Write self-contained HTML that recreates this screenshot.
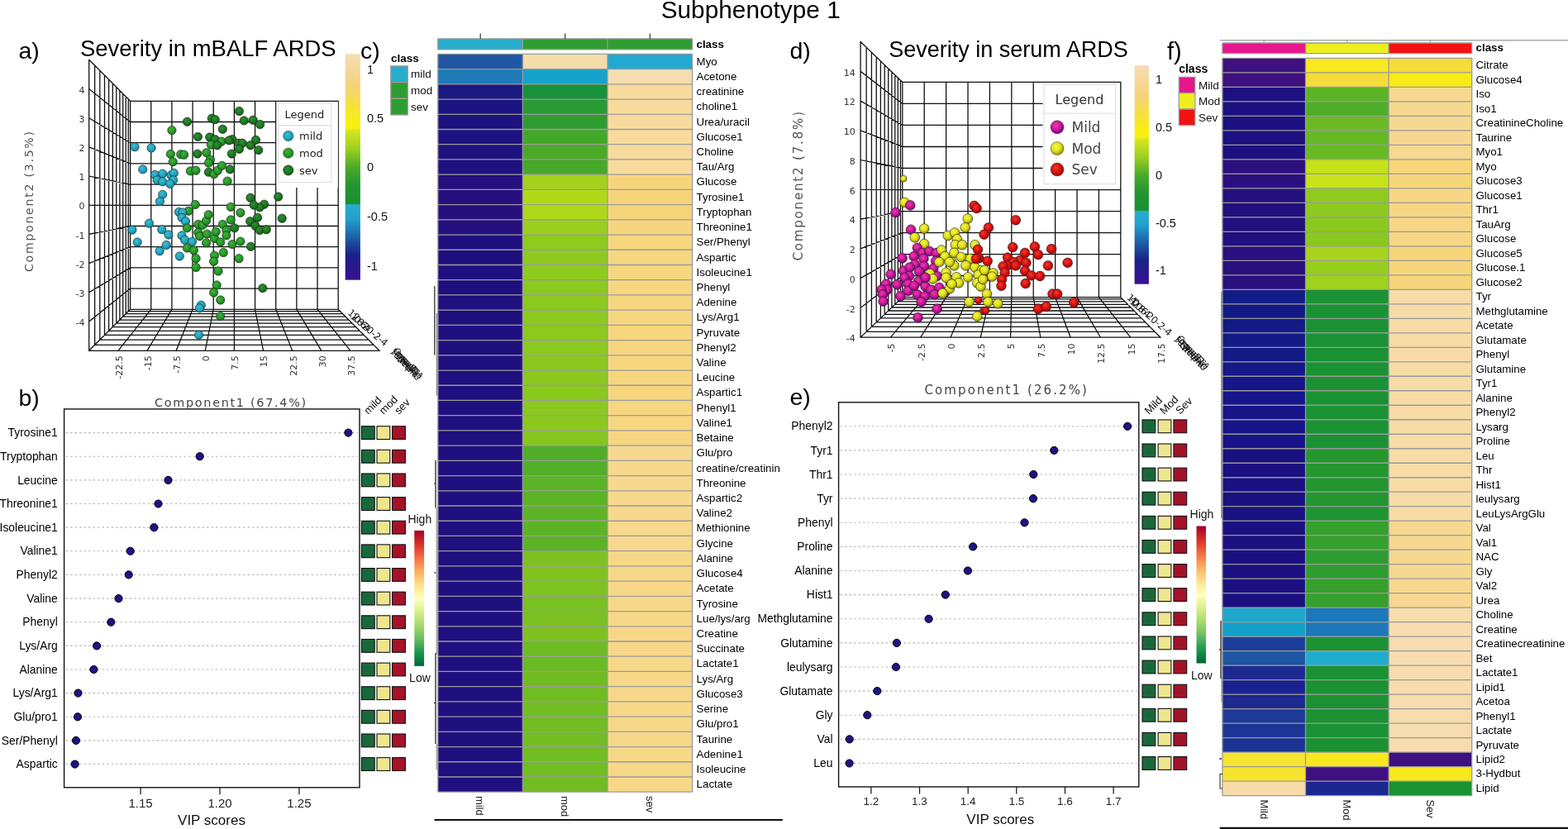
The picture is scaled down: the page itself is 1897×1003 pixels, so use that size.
<!DOCTYPE html>
<html><head><meta charset="utf-8"><title>Subphenotype 1</title>
<style>html,body{margin:0;padding:0;background:#fff;overflow:hidden}svg{display:block}</style>
</head><body>
<svg width="1897" height="1003" viewBox="0 0 1897 1003">
<defs>
<linearGradient id="rdylgn" x1="0" y1="0" x2="0" y2="1">
<stop offset="0" stop-color="#A50026"/><stop offset="0.1" stop-color="#D73027"/><stop offset="0.2" stop-color="#F46D43"/>
<stop offset="0.3" stop-color="#FDAE61"/><stop offset="0.4" stop-color="#FEE08B"/><stop offset="0.5" stop-color="#FFFFBF"/>
<stop offset="0.6" stop-color="#D9EF8B"/><stop offset="0.7" stop-color="#A6D96A"/><stop offset="0.8" stop-color="#66BD63"/>
<stop offset="0.9" stop-color="#1A9850"/><stop offset="1" stop-color="#006837"/></linearGradient>
<radialGradient id="gc" cx="0.42" cy="0.38" r="0.62"><stop offset="0" stop-color="#3EBDD2"/><stop offset="0.55" stop-color="#22A6BF"/><stop offset="1" stop-color="#15839A"/></radialGradient>
<radialGradient id="gg" cx="0.42" cy="0.38" r="0.62"><stop offset="0" stop-color="#3DB33D"/><stop offset="0.55" stop-color="#279A27"/><stop offset="1" stop-color="#1B7A1B"/></radialGradient>
<radialGradient id="gd" cx="0.42" cy="0.38" r="0.62"><stop offset="0" stop-color="#2F8F2F"/><stop offset="0.55" stop-color="#1E7A22"/><stop offset="1" stop-color="#145C16"/></radialGradient>
<radialGradient id="gm" cx="0.42" cy="0.38" r="0.62"><stop offset="0" stop-color="#F03CA8"/><stop offset="0.55" stop-color="#C8149C"/><stop offset="1" stop-color="#6E0A72"/></radialGradient>
<radialGradient id="gy" cx="0.42" cy="0.38" r="0.62"><stop offset="0" stop-color="#F6F650"/><stop offset="0.55" stop-color="#DEDE18"/><stop offset="1" stop-color="#929206"/></radialGradient>
<radialGradient id="gr" cx="0.42" cy="0.38" r="0.62"><stop offset="0" stop-color="#F23A2A"/><stop offset="0.55" stop-color="#D81010"/><stop offset="1" stop-color="#9A0808"/></radialGradient>
<linearGradient id="hmcb" x1="0" y1="0" x2="0" y2="1">
<stop offset="0" stop-color="#F5DDB5"/><stop offset="0.14" stop-color="#F5D27A"/><stop offset="0.22" stop-color="#F7E040"/>
<stop offset="0.30" stop-color="#F8F010"/><stop offset="0.33" stop-color="#F8F010"/><stop offset="0.335" stop-color="#D8E820"/>
<stop offset="0.42" stop-color="#9CCF20"/><stop offset="0.50" stop-color="#4CAA2A"/><stop offset="0.585" stop-color="#229530"/>
<stop offset="0.664" stop-color="#1A9033"/><stop offset="0.667" stop-color="#29ADCF"/><stop offset="0.73" stop-color="#20A0CC"/>
<stop offset="0.81" stop-color="#1E60A8"/><stop offset="0.89" stop-color="#1A2088"/><stop offset="1" stop-color="#3A1090"/></linearGradient>
</defs>
<rect width="1897" height="1003" fill="#fff"/>
<rect x="529.80" y="65.40" width="102.60" height="18.22" fill="#1F57A5" />
<rect x="632.40" y="65.40" width="102.60" height="18.22" fill="#F5DCAB" />
<rect x="735.00" y="65.40" width="102.60" height="18.22" fill="#21A9D1" />
<text x="842.6" y="78.6" font-size="13.3" text-anchor="start" fill="#000" font-family="'Liberation Sans', Arial, sans-serif" >Myo</text>
<rect x="529.80" y="83.62" width="102.60" height="18.22" fill="#1E7BB8" />
<rect x="632.40" y="83.62" width="102.60" height="18.22" fill="#15A3CB" />
<rect x="735.00" y="83.62" width="102.60" height="18.22" fill="#F6DDB0" />
<text x="842.6" y="96.8" font-size="13.3" text-anchor="start" fill="#000" font-family="'Liberation Sans', Arial, sans-serif" >Acetone</text>
<rect x="529.80" y="101.84" width="102.60" height="18.22" fill="#1B1A80" />
<rect x="632.40" y="101.84" width="102.60" height="18.22" fill="#17913A" />
<rect x="735.00" y="101.84" width="102.60" height="18.22" fill="#F8DB9C" />
<text x="842.6" y="115.0" font-size="13.3" text-anchor="start" fill="#000" font-family="'Liberation Sans', Arial, sans-serif" >creatinine</text>
<rect x="529.80" y="120.06" width="102.60" height="18.22" fill="#1C1480" />
<rect x="632.40" y="120.06" width="102.60" height="18.22" fill="#2A9A35" />
<rect x="735.00" y="120.06" width="102.60" height="18.22" fill="#F8DB9C" />
<text x="842.6" y="133.3" font-size="13.3" text-anchor="start" fill="#000" font-family="'Liberation Sans', Arial, sans-serif" >choline1</text>
<rect x="529.80" y="138.28" width="102.60" height="18.22" fill="#1E1280" />
<rect x="632.40" y="138.28" width="102.60" height="18.22" fill="#2E9C30" />
<rect x="735.00" y="138.28" width="102.60" height="18.22" fill="#F8DB9C" />
<text x="842.6" y="151.5" font-size="13.3" text-anchor="start" fill="#000" font-family="'Liberation Sans', Arial, sans-serif" >Urea/uracil</text>
<rect x="529.80" y="156.50" width="102.60" height="18.22" fill="#1E1280" />
<rect x="632.40" y="156.50" width="102.60" height="18.22" fill="#43A728" />
<rect x="735.00" y="156.50" width="102.60" height="18.22" fill="#F8DB9C" />
<text x="842.6" y="169.7" font-size="13.3" text-anchor="start" fill="#000" font-family="'Liberation Sans', Arial, sans-serif" >Glucose1</text>
<rect x="529.80" y="174.72" width="102.60" height="18.22" fill="#1E1280" />
<rect x="632.40" y="174.72" width="102.60" height="18.22" fill="#4AAA28" />
<rect x="735.00" y="174.72" width="102.60" height="18.22" fill="#F8DB9C" />
<text x="842.6" y="187.9" font-size="13.3" text-anchor="start" fill="#000" font-family="'Liberation Sans', Arial, sans-serif" >Choline</text>
<rect x="529.80" y="192.94" width="102.60" height="18.22" fill="#1E1280" />
<rect x="632.40" y="192.94" width="102.60" height="18.22" fill="#47A829" />
<rect x="735.00" y="192.94" width="102.60" height="18.22" fill="#F8DB9C" />
<text x="842.6" y="206.1" font-size="13.3" text-anchor="start" fill="#000" font-family="'Liberation Sans', Arial, sans-serif" >Tau/Arg</text>
<rect x="529.80" y="211.16" width="102.60" height="18.22" fill="#25107E" />
<rect x="632.40" y="211.16" width="102.60" height="18.22" fill="#A5D11C" />
<rect x="735.00" y="211.16" width="102.60" height="18.22" fill="#F7D57D" />
<text x="842.6" y="224.4" font-size="13.3" text-anchor="start" fill="#000" font-family="'Liberation Sans', Arial, sans-serif" >Glucose</text>
<rect x="529.80" y="229.38" width="102.60" height="18.22" fill="#27107E" />
<rect x="632.40" y="229.38" width="102.60" height="18.22" fill="#B2D918" />
<rect x="735.00" y="229.38" width="102.60" height="18.22" fill="#F7D47A" />
<text x="842.6" y="242.6" font-size="13.3" text-anchor="start" fill="#000" font-family="'Liberation Sans', Arial, sans-serif" >Tyrosine1</text>
<rect x="529.80" y="247.60" width="102.60" height="18.22" fill="#26107E" />
<rect x="632.40" y="247.60" width="102.60" height="18.22" fill="#B0D81A" />
<rect x="735.00" y="247.60" width="102.60" height="18.22" fill="#F7D47A" />
<text x="842.6" y="260.8" font-size="13.3" text-anchor="start" fill="#000" font-family="'Liberation Sans', Arial, sans-serif" >Tryptophan</text>
<rect x="529.80" y="265.82" width="102.60" height="18.22" fill="#24107E" />
<rect x="632.40" y="265.82" width="102.60" height="18.22" fill="#9ACF1C" />
<rect x="735.00" y="265.82" width="102.60" height="18.22" fill="#F7D57E" />
<text x="842.6" y="279.0" font-size="13.3" text-anchor="start" fill="#000" font-family="'Liberation Sans', Arial, sans-serif" >Threonine1</text>
<rect x="529.80" y="284.04" width="102.60" height="18.22" fill="#200F7F" />
<rect x="632.40" y="284.04" width="102.60" height="18.22" fill="#8FCA1E" />
<rect x="735.00" y="284.04" width="102.60" height="18.22" fill="#F7D680" />
<text x="842.6" y="297.2" font-size="13.3" text-anchor="start" fill="#000" font-family="'Liberation Sans', Arial, sans-serif" >Ser/Phenyl</text>
<rect x="529.80" y="302.27" width="102.60" height="18.22" fill="#200F7F" />
<rect x="632.40" y="302.27" width="102.60" height="18.22" fill="#8ECA1E" />
<rect x="735.00" y="302.27" width="102.60" height="18.22" fill="#F7D680" />
<text x="842.6" y="315.5" font-size="13.3" text-anchor="start" fill="#000" font-family="'Liberation Sans', Arial, sans-serif" >Aspartic</text>
<rect x="529.80" y="320.49" width="102.60" height="18.22" fill="#200F7F" />
<rect x="632.40" y="320.49" width="102.60" height="18.22" fill="#8ECA1E" />
<rect x="735.00" y="320.49" width="102.60" height="18.22" fill="#F7D680" />
<text x="842.6" y="333.7" font-size="13.3" text-anchor="start" fill="#000" font-family="'Liberation Sans', Arial, sans-serif" >Isoleucine1</text>
<rect x="529.80" y="338.71" width="102.60" height="18.22" fill="#200F7F" />
<rect x="632.40" y="338.71" width="102.60" height="18.22" fill="#8CC91E" />
<rect x="735.00" y="338.71" width="102.60" height="18.22" fill="#F7D680" />
<text x="842.6" y="351.9" font-size="13.3" text-anchor="start" fill="#000" font-family="'Liberation Sans', Arial, sans-serif" >Phenyl</text>
<rect x="529.80" y="356.93" width="102.60" height="18.22" fill="#200F7F" />
<rect x="632.40" y="356.93" width="102.60" height="18.22" fill="#8CC91E" />
<rect x="735.00" y="356.93" width="102.60" height="18.22" fill="#F7D680" />
<text x="842.6" y="370.1" font-size="13.3" text-anchor="start" fill="#000" font-family="'Liberation Sans', Arial, sans-serif" >Adenine</text>
<rect x="529.80" y="375.15" width="102.60" height="18.22" fill="#200F7F" />
<rect x="632.40" y="375.15" width="102.60" height="18.22" fill="#8CC91E" />
<rect x="735.00" y="375.15" width="102.60" height="18.22" fill="#F7D680" />
<text x="842.6" y="388.3" font-size="13.3" text-anchor="start" fill="#000" font-family="'Liberation Sans', Arial, sans-serif" >Lys/Arg1</text>
<rect x="529.80" y="393.37" width="102.60" height="18.22" fill="#200F7F" />
<rect x="632.40" y="393.37" width="102.60" height="18.22" fill="#8CC91E" />
<rect x="735.00" y="393.37" width="102.60" height="18.22" fill="#F7D680" />
<text x="842.6" y="406.6" font-size="13.3" text-anchor="start" fill="#000" font-family="'Liberation Sans', Arial, sans-serif" >Pyruvate</text>
<rect x="529.80" y="411.59" width="102.60" height="18.22" fill="#200F7F" />
<rect x="632.40" y="411.59" width="102.60" height="18.22" fill="#8CC91E" />
<rect x="735.00" y="411.59" width="102.60" height="18.22" fill="#F7D680" />
<text x="842.6" y="424.8" font-size="13.3" text-anchor="start" fill="#000" font-family="'Liberation Sans', Arial, sans-serif" >Phenyl2</text>
<rect x="529.80" y="429.81" width="102.60" height="18.22" fill="#200F7F" />
<rect x="632.40" y="429.81" width="102.60" height="18.22" fill="#8AC81E" />
<rect x="735.00" y="429.81" width="102.60" height="18.22" fill="#F7D680" />
<text x="842.6" y="443.0" font-size="13.3" text-anchor="start" fill="#000" font-family="'Liberation Sans', Arial, sans-serif" >Valine</text>
<rect x="529.80" y="448.03" width="102.60" height="18.22" fill="#200F7F" />
<rect x="632.40" y="448.03" width="102.60" height="18.22" fill="#8AC81E" />
<rect x="735.00" y="448.03" width="102.60" height="18.22" fill="#F7D680" />
<text x="842.6" y="461.2" font-size="13.3" text-anchor="start" fill="#000" font-family="'Liberation Sans', Arial, sans-serif" >Leucine</text>
<rect x="529.80" y="466.25" width="102.60" height="18.22" fill="#200F7F" />
<rect x="632.40" y="466.25" width="102.60" height="18.22" fill="#8AC81E" />
<rect x="735.00" y="466.25" width="102.60" height="18.22" fill="#F7D680" />
<text x="842.6" y="479.4" font-size="13.3" text-anchor="start" fill="#000" font-family="'Liberation Sans', Arial, sans-serif" >Aspartic1</text>
<rect x="529.80" y="484.47" width="102.60" height="18.22" fill="#200F7F" />
<rect x="632.40" y="484.47" width="102.60" height="18.22" fill="#8AC81E" />
<rect x="735.00" y="484.47" width="102.60" height="18.22" fill="#F7D680" />
<text x="842.6" y="497.7" font-size="13.3" text-anchor="start" fill="#000" font-family="'Liberation Sans', Arial, sans-serif" >Phenyl1</text>
<rect x="529.80" y="502.69" width="102.60" height="18.22" fill="#200F7F" />
<rect x="632.40" y="502.69" width="102.60" height="18.22" fill="#8AC81E" />
<rect x="735.00" y="502.69" width="102.60" height="18.22" fill="#F7D680" />
<text x="842.6" y="515.9" font-size="13.3" text-anchor="start" fill="#000" font-family="'Liberation Sans', Arial, sans-serif" >Valine1</text>
<rect x="529.80" y="520.91" width="102.60" height="18.22" fill="#200F7F" />
<rect x="632.40" y="520.91" width="102.60" height="18.22" fill="#86C61F" />
<rect x="735.00" y="520.91" width="102.60" height="18.22" fill="#F7D682" />
<text x="842.6" y="534.1" font-size="13.3" text-anchor="start" fill="#000" font-family="'Liberation Sans', Arial, sans-serif" >Betaine</text>
<rect x="529.80" y="539.13" width="102.60" height="18.22" fill="#200F7F" />
<rect x="632.40" y="539.13" width="102.60" height="18.22" fill="#50AD28" />
<rect x="735.00" y="539.13" width="102.60" height="18.22" fill="#F7D890" />
<text x="842.6" y="552.3" font-size="13.3" text-anchor="start" fill="#000" font-family="'Liberation Sans', Arial, sans-serif" >Glu/pro</text>
<rect x="529.80" y="557.35" width="102.60" height="18.22" fill="#200F7F" />
<rect x="632.40" y="557.35" width="102.60" height="18.22" fill="#52AE28" />
<rect x="735.00" y="557.35" width="102.60" height="18.22" fill="#F7D88C" />
<text x="842.6" y="570.5" font-size="13.3" text-anchor="start" fill="#000" font-family="'Liberation Sans', Arial, sans-serif" >creatine/creatinin</text>
<rect x="529.80" y="575.57" width="102.60" height="18.22" fill="#200F7F" />
<rect x="632.40" y="575.57" width="102.60" height="18.22" fill="#5DB326" />
<rect x="735.00" y="575.57" width="102.60" height="18.22" fill="#F7D88C" />
<text x="842.6" y="588.8" font-size="13.3" text-anchor="start" fill="#000" font-family="'Liberation Sans', Arial, sans-serif" >Threonine</text>
<rect x="529.80" y="593.79" width="102.60" height="18.22" fill="#200F7F" />
<rect x="632.40" y="593.79" width="102.60" height="18.22" fill="#5DB326" />
<rect x="735.00" y="593.79" width="102.60" height="18.22" fill="#F7D88C" />
<text x="842.6" y="607.0" font-size="13.3" text-anchor="start" fill="#000" font-family="'Liberation Sans', Arial, sans-serif" >Aspartic2</text>
<rect x="529.80" y="612.01" width="102.60" height="18.22" fill="#200F7F" />
<rect x="632.40" y="612.01" width="102.60" height="18.22" fill="#5EB426" />
<rect x="735.00" y="612.01" width="102.60" height="18.22" fill="#F7D88C" />
<text x="842.6" y="625.2" font-size="13.3" text-anchor="start" fill="#000" font-family="'Liberation Sans', Arial, sans-serif" >Valine2</text>
<rect x="529.80" y="630.23" width="102.60" height="18.22" fill="#200F7F" />
<rect x="632.40" y="630.23" width="102.60" height="18.22" fill="#5DB326" />
<rect x="735.00" y="630.23" width="102.60" height="18.22" fill="#F7D88C" />
<text x="842.6" y="643.4" font-size="13.3" text-anchor="start" fill="#000" font-family="'Liberation Sans', Arial, sans-serif" >Methionine</text>
<rect x="529.80" y="648.45" width="102.60" height="18.22" fill="#200F7F" />
<rect x="632.40" y="648.45" width="102.60" height="18.22" fill="#5DB326" />
<rect x="735.00" y="648.45" width="102.60" height="18.22" fill="#F7D88C" />
<text x="842.6" y="661.7" font-size="13.3" text-anchor="start" fill="#000" font-family="'Liberation Sans', Arial, sans-serif" >Glycine</text>
<rect x="529.80" y="666.67" width="102.60" height="18.22" fill="#200F7F" />
<rect x="632.40" y="666.67" width="102.60" height="18.22" fill="#7DC221" />
<rect x="735.00" y="666.67" width="102.60" height="18.22" fill="#F7D888" />
<text x="842.6" y="679.9" font-size="13.3" text-anchor="start" fill="#000" font-family="'Liberation Sans', Arial, sans-serif" >Alanine</text>
<rect x="529.80" y="684.89" width="102.60" height="18.22" fill="#200F7F" />
<rect x="632.40" y="684.89" width="102.60" height="18.22" fill="#80C420" />
<rect x="735.00" y="684.89" width="102.60" height="18.22" fill="#F7D888" />
<text x="842.6" y="698.1" font-size="13.3" text-anchor="start" fill="#000" font-family="'Liberation Sans', Arial, sans-serif" >Glucose4</text>
<rect x="529.80" y="703.11" width="102.60" height="18.22" fill="#200F7F" />
<rect x="632.40" y="703.11" width="102.60" height="18.22" fill="#7EC320" />
<rect x="735.00" y="703.11" width="102.60" height="18.22" fill="#F7D888" />
<text x="842.6" y="716.3" font-size="13.3" text-anchor="start" fill="#000" font-family="'Liberation Sans', Arial, sans-serif" >Acetate</text>
<rect x="529.80" y="721.33" width="102.60" height="18.22" fill="#200F7F" />
<rect x="632.40" y="721.33" width="102.60" height="18.22" fill="#7AC121" />
<rect x="735.00" y="721.33" width="102.60" height="18.22" fill="#F7D888" />
<text x="842.6" y="734.5" font-size="13.3" text-anchor="start" fill="#000" font-family="'Liberation Sans', Arial, sans-serif" >Tyrosine</text>
<rect x="529.80" y="739.56" width="102.60" height="18.22" fill="#200F7F" />
<rect x="632.40" y="739.56" width="102.60" height="18.22" fill="#7AC121" />
<rect x="735.00" y="739.56" width="102.60" height="18.22" fill="#F7D888" />
<text x="842.6" y="752.8" font-size="13.3" text-anchor="start" fill="#000" font-family="'Liberation Sans', Arial, sans-serif" >Lue/lys/arg</text>
<rect x="529.80" y="757.78" width="102.60" height="18.22" fill="#200F7F" />
<rect x="632.40" y="757.78" width="102.60" height="18.22" fill="#7DC221" />
<rect x="735.00" y="757.78" width="102.60" height="18.22" fill="#F7D888" />
<text x="842.6" y="771.0" font-size="13.3" text-anchor="start" fill="#000" font-family="'Liberation Sans', Arial, sans-serif" >Creatine</text>
<rect x="529.80" y="776.00" width="102.60" height="18.22" fill="#200F7F" />
<rect x="632.40" y="776.00" width="102.60" height="18.22" fill="#6EBB23" />
<rect x="735.00" y="776.00" width="102.60" height="18.22" fill="#F7D888" />
<text x="842.6" y="789.2" font-size="13.3" text-anchor="start" fill="#000" font-family="'Liberation Sans', Arial, sans-serif" >Succinate</text>
<rect x="529.80" y="794.22" width="102.60" height="18.22" fill="#200F7F" />
<rect x="632.40" y="794.22" width="102.60" height="18.22" fill="#6BBA23" />
<rect x="735.00" y="794.22" width="102.60" height="18.22" fill="#F7D888" />
<text x="842.6" y="807.4" font-size="13.3" text-anchor="start" fill="#000" font-family="'Liberation Sans', Arial, sans-serif" >Lactate1</text>
<rect x="529.80" y="812.44" width="102.60" height="18.22" fill="#200F7F" />
<rect x="632.40" y="812.44" width="102.60" height="18.22" fill="#6FBC22" />
<rect x="735.00" y="812.44" width="102.60" height="18.22" fill="#F7D888" />
<text x="842.6" y="825.6" font-size="13.3" text-anchor="start" fill="#000" font-family="'Liberation Sans', Arial, sans-serif" >Lys/Arg</text>
<rect x="529.80" y="830.66" width="102.60" height="18.22" fill="#200F7F" />
<rect x="632.40" y="830.66" width="102.60" height="18.22" fill="#70BC22" />
<rect x="735.00" y="830.66" width="102.60" height="18.22" fill="#F7D888" />
<text x="842.6" y="843.9" font-size="13.3" text-anchor="start" fill="#000" font-family="'Liberation Sans', Arial, sans-serif" >Glucose3</text>
<rect x="529.80" y="848.88" width="102.60" height="18.22" fill="#200F7F" />
<rect x="632.40" y="848.88" width="102.60" height="18.22" fill="#72BD22" />
<rect x="735.00" y="848.88" width="102.60" height="18.22" fill="#F7D888" />
<text x="842.6" y="862.1" font-size="13.3" text-anchor="start" fill="#000" font-family="'Liberation Sans', Arial, sans-serif" >Serine</text>
<rect x="529.80" y="867.10" width="102.60" height="18.22" fill="#200F7F" />
<rect x="632.40" y="867.10" width="102.60" height="18.22" fill="#72BD22" />
<rect x="735.00" y="867.10" width="102.60" height="18.22" fill="#F7D888" />
<text x="842.6" y="880.3" font-size="13.3" text-anchor="start" fill="#000" font-family="'Liberation Sans', Arial, sans-serif" >Glu/pro1</text>
<rect x="529.80" y="885.32" width="102.60" height="18.22" fill="#200F7F" />
<rect x="632.40" y="885.32" width="102.60" height="18.22" fill="#72BD22" />
<rect x="735.00" y="885.32" width="102.60" height="18.22" fill="#F7D888" />
<text x="842.6" y="898.5" font-size="13.3" text-anchor="start" fill="#000" font-family="'Liberation Sans', Arial, sans-serif" >Taurine</text>
<rect x="529.80" y="903.54" width="102.60" height="18.22" fill="#200F7F" />
<rect x="632.40" y="903.54" width="102.60" height="18.22" fill="#72BD22" />
<rect x="735.00" y="903.54" width="102.60" height="18.22" fill="#F7D888" />
<text x="842.6" y="916.7" font-size="13.3" text-anchor="start" fill="#000" font-family="'Liberation Sans', Arial, sans-serif" >Adenine1</text>
<rect x="529.80" y="921.76" width="102.60" height="18.22" fill="#200F7F" />
<rect x="632.40" y="921.76" width="102.60" height="18.22" fill="#72BD22" />
<rect x="735.00" y="921.76" width="102.60" height="18.22" fill="#F7D888" />
<text x="842.6" y="935.0" font-size="13.3" text-anchor="start" fill="#000" font-family="'Liberation Sans', Arial, sans-serif" >Isoleucine</text>
<rect x="529.80" y="939.98" width="102.60" height="18.22" fill="#200F7F" />
<rect x="632.40" y="939.98" width="102.60" height="18.22" fill="#70BC22" />
<rect x="735.00" y="939.98" width="102.60" height="18.22" fill="#F7D888" />
<text x="842.6" y="953.2" font-size="13.3" text-anchor="start" fill="#000" font-family="'Liberation Sans', Arial, sans-serif" >Lactate</text>
<line x1="529.80" y1="65.40" x2="837.60" y2="65.40" stroke="#9A9A9A" stroke-width="1.3" />
<line x1="529.80" y1="83.62" x2="837.60" y2="83.62" stroke="#9A9A9A" stroke-width="1.3" />
<line x1="529.80" y1="101.84" x2="837.60" y2="101.84" stroke="#9A9A9A" stroke-width="1.3" />
<line x1="529.80" y1="120.06" x2="837.60" y2="120.06" stroke="#9A9A9A" stroke-width="1.3" />
<line x1="529.80" y1="138.28" x2="837.60" y2="138.28" stroke="#9A9A9A" stroke-width="1.3" />
<line x1="529.80" y1="156.50" x2="837.60" y2="156.50" stroke="#9A9A9A" stroke-width="1.3" />
<line x1="529.80" y1="174.72" x2="837.60" y2="174.72" stroke="#9A9A9A" stroke-width="1.3" />
<line x1="529.80" y1="192.94" x2="837.60" y2="192.94" stroke="#9A9A9A" stroke-width="1.3" />
<line x1="529.80" y1="211.16" x2="837.60" y2="211.16" stroke="#9A9A9A" stroke-width="1.3" />
<line x1="529.80" y1="229.38" x2="837.60" y2="229.38" stroke="#9A9A9A" stroke-width="1.3" />
<line x1="529.80" y1="247.60" x2="837.60" y2="247.60" stroke="#9A9A9A" stroke-width="1.3" />
<line x1="529.80" y1="265.82" x2="837.60" y2="265.82" stroke="#9A9A9A" stroke-width="1.3" />
<line x1="529.80" y1="284.04" x2="837.60" y2="284.04" stroke="#9A9A9A" stroke-width="1.3" />
<line x1="529.80" y1="302.27" x2="837.60" y2="302.27" stroke="#9A9A9A" stroke-width="1.3" />
<line x1="529.80" y1="320.49" x2="837.60" y2="320.49" stroke="#9A9A9A" stroke-width="1.3" />
<line x1="529.80" y1="338.71" x2="837.60" y2="338.71" stroke="#9A9A9A" stroke-width="1.3" />
<line x1="529.80" y1="356.93" x2="837.60" y2="356.93" stroke="#9A9A9A" stroke-width="1.3" />
<line x1="529.80" y1="375.15" x2="837.60" y2="375.15" stroke="#9A9A9A" stroke-width="1.3" />
<line x1="529.80" y1="393.37" x2="837.60" y2="393.37" stroke="#9A9A9A" stroke-width="1.3" />
<line x1="529.80" y1="411.59" x2="837.60" y2="411.59" stroke="#9A9A9A" stroke-width="1.3" />
<line x1="529.80" y1="429.81" x2="837.60" y2="429.81" stroke="#9A9A9A" stroke-width="1.3" />
<line x1="529.80" y1="448.03" x2="837.60" y2="448.03" stroke="#9A9A9A" stroke-width="1.3" />
<line x1="529.80" y1="466.25" x2="837.60" y2="466.25" stroke="#9A9A9A" stroke-width="1.3" />
<line x1="529.80" y1="484.47" x2="837.60" y2="484.47" stroke="#9A9A9A" stroke-width="1.3" />
<line x1="529.80" y1="502.69" x2="837.60" y2="502.69" stroke="#9A9A9A" stroke-width="1.3" />
<line x1="529.80" y1="520.91" x2="837.60" y2="520.91" stroke="#9A9A9A" stroke-width="1.3" />
<line x1="529.80" y1="539.13" x2="837.60" y2="539.13" stroke="#9A9A9A" stroke-width="1.3" />
<line x1="529.80" y1="557.35" x2="837.60" y2="557.35" stroke="#9A9A9A" stroke-width="1.3" />
<line x1="529.80" y1="575.57" x2="837.60" y2="575.57" stroke="#9A9A9A" stroke-width="1.3" />
<line x1="529.80" y1="593.79" x2="837.60" y2="593.79" stroke="#9A9A9A" stroke-width="1.3" />
<line x1="529.80" y1="612.01" x2="837.60" y2="612.01" stroke="#9A9A9A" stroke-width="1.3" />
<line x1="529.80" y1="630.23" x2="837.60" y2="630.23" stroke="#9A9A9A" stroke-width="1.3" />
<line x1="529.80" y1="648.45" x2="837.60" y2="648.45" stroke="#9A9A9A" stroke-width="1.3" />
<line x1="529.80" y1="666.67" x2="837.60" y2="666.67" stroke="#9A9A9A" stroke-width="1.3" />
<line x1="529.80" y1="684.89" x2="837.60" y2="684.89" stroke="#9A9A9A" stroke-width="1.3" />
<line x1="529.80" y1="703.11" x2="837.60" y2="703.11" stroke="#9A9A9A" stroke-width="1.3" />
<line x1="529.80" y1="721.33" x2="837.60" y2="721.33" stroke="#9A9A9A" stroke-width="1.3" />
<line x1="529.80" y1="739.56" x2="837.60" y2="739.56" stroke="#9A9A9A" stroke-width="1.3" />
<line x1="529.80" y1="757.78" x2="837.60" y2="757.78" stroke="#9A9A9A" stroke-width="1.3" />
<line x1="529.80" y1="776.00" x2="837.60" y2="776.00" stroke="#9A9A9A" stroke-width="1.3" />
<line x1="529.80" y1="794.22" x2="837.60" y2="794.22" stroke="#9A9A9A" stroke-width="1.3" />
<line x1="529.80" y1="812.44" x2="837.60" y2="812.44" stroke="#9A9A9A" stroke-width="1.3" />
<line x1="529.80" y1="830.66" x2="837.60" y2="830.66" stroke="#9A9A9A" stroke-width="1.3" />
<line x1="529.80" y1="848.88" x2="837.60" y2="848.88" stroke="#9A9A9A" stroke-width="1.3" />
<line x1="529.80" y1="867.10" x2="837.60" y2="867.10" stroke="#9A9A9A" stroke-width="1.3" />
<line x1="529.80" y1="885.32" x2="837.60" y2="885.32" stroke="#9A9A9A" stroke-width="1.3" />
<line x1="529.80" y1="903.54" x2="837.60" y2="903.54" stroke="#9A9A9A" stroke-width="1.3" />
<line x1="529.80" y1="921.76" x2="837.60" y2="921.76" stroke="#9A9A9A" stroke-width="1.3" />
<line x1="529.80" y1="939.98" x2="837.60" y2="939.98" stroke="#9A9A9A" stroke-width="1.3" />
<line x1="529.80" y1="958.20" x2="837.60" y2="958.20" stroke="#9A9A9A" stroke-width="1.3" />
<line x1="529.80" y1="65.40" x2="529.80" y2="958.20" stroke="#9A9A9A" stroke-width="1.3" />
<line x1="632.40" y1="65.40" x2="632.40" y2="958.20" stroke="#9A9A9A" stroke-width="1.3" />
<line x1="735.00" y1="65.40" x2="735.00" y2="958.20" stroke="#9A9A9A" stroke-width="1.3" />
<line x1="837.60" y1="65.40" x2="837.60" y2="958.20" stroke="#9A9A9A" stroke-width="1.3" />
<rect x="529.80" y="46.80" width="102.60" height="13.10" fill="#28ADCC" />
<rect x="632.40" y="46.80" width="102.60" height="13.10" fill="#2E9E32" />
<rect x="735.00" y="46.80" width="102.60" height="13.10" fill="#2E9E32" />
<line x1="529.80" y1="46.80" x2="837.60" y2="46.80" stroke="#9A9A9A" stroke-width="1.3" />
<line x1="529.80" y1="59.90" x2="837.60" y2="59.90" stroke="#9A9A9A" stroke-width="1.3" />
<line x1="529.80" y1="46.80" x2="529.80" y2="59.90" stroke="#9A9A9A" stroke-width="1.3" />
<line x1="632.40" y1="46.80" x2="632.40" y2="59.90" stroke="#9A9A9A" stroke-width="1.3" />
<line x1="735.00" y1="46.80" x2="735.00" y2="59.90" stroke="#9A9A9A" stroke-width="1.3" />
<line x1="837.60" y1="46.80" x2="837.60" y2="59.90" stroke="#9A9A9A" stroke-width="1.3" />
<text x="842.5" y="57.9" font-size="13.3" text-anchor="start" fill="#000" font-family="'Liberation Sans', Arial, sans-serif" font-weight="bold" >class</text>
<line x1="581.20" y1="40.50" x2="581.20" y2="46.80" stroke="#333" stroke-width="1.2" />
<line x1="683.70" y1="40.50" x2="683.70" y2="46.80" stroke="#333" stroke-width="1.2" />
<line x1="786.30" y1="40.50" x2="786.30" y2="46.80" stroke="#333" stroke-width="1.2" />
<text transform="translate(576.4,962.9) rotate(90)" font-size="13" font-family="'Liberation Sans', Arial, sans-serif" fill="#222">mild</text>
<text transform="translate(678.9,962.9) rotate(90)" font-size="13" font-family="'Liberation Sans', Arial, sans-serif" fill="#222">mod</text>
<text transform="translate(781.5,962.9) rotate(90)" font-size="13" font-family="'Liberation Sans', Arial, sans-serif" fill="#222">sev</text>
<line x1="525.50" y1="991.90" x2="946.90" y2="991.90" stroke="#111" stroke-width="2" />
<line x1="525.80" y1="346.00" x2="525.80" y2="429.50" stroke="#222" stroke-width="1.2" />
<line x1="528.30" y1="379.00" x2="528.30" y2="478.70" stroke="#777" stroke-width="1.1" />
<line x1="527.00" y1="557.00" x2="527.00" y2="614.30" stroke="#222" stroke-width="1.3" />
<line x1="525.00" y1="585.00" x2="527.00" y2="585.00" stroke="#222" stroke-width="1.1" />
<line x1="528.20" y1="614.00" x2="528.20" y2="792.00" stroke="#888" stroke-width="1.1" />
<line x1="525.00" y1="693.00" x2="527.50" y2="693.00" stroke="#222" stroke-width="1.1" />
<line x1="527.00" y1="790.00" x2="527.00" y2="900.00" stroke="#222" stroke-width="1.3" />
<line x1="525.00" y1="850.50" x2="527.00" y2="850.50" stroke="#222" stroke-width="1.1" />
<line x1="528.20" y1="900.00" x2="528.20" y2="931.50" stroke="#888" stroke-width="1.1" />
<rect x="1478.90" y="70.40" width="100.60" height="17.49" fill="#3F1080" />
<rect x="1579.50" y="70.40" width="100.60" height="17.49" fill="#F8E81E" />
<rect x="1680.10" y="70.40" width="100.60" height="17.49" fill="#F5DC3A" />
<text x="1785.5" y="83.2" font-size="13.3" text-anchor="start" fill="#000" font-family="'Liberation Sans', Arial, sans-serif" >Citrate</text>
<rect x="1478.90" y="87.89" width="100.60" height="17.49" fill="#3F1080" />
<rect x="1579.50" y="87.89" width="100.60" height="17.49" fill="#F5DC3A" />
<rect x="1680.10" y="87.89" width="100.60" height="17.49" fill="#F9EB1A" />
<text x="1785.5" y="100.7" font-size="13.3" text-anchor="start" fill="#000" font-family="'Liberation Sans', Arial, sans-serif" >Glucose4</text>
<rect x="1478.90" y="105.39" width="100.60" height="17.49" fill="#1E1080" />
<rect x="1579.50" y="105.39" width="100.60" height="17.49" fill="#5DB326" />
<rect x="1680.10" y="105.39" width="100.60" height="17.49" fill="#F7D890" />
<text x="1785.5" y="118.2" font-size="13.3" text-anchor="start" fill="#000" font-family="'Liberation Sans', Arial, sans-serif" >Iso</text>
<rect x="1478.90" y="122.88" width="100.60" height="17.49" fill="#1E1080" />
<rect x="1579.50" y="122.88" width="100.60" height="17.49" fill="#50AD28" />
<rect x="1680.10" y="122.88" width="100.60" height="17.49" fill="#F7D890" />
<text x="1785.5" y="135.7" font-size="13.3" text-anchor="start" fill="#000" font-family="'Liberation Sans', Arial, sans-serif" >Iso1</text>
<rect x="1478.90" y="140.38" width="100.60" height="17.49" fill="#1E1080" />
<rect x="1579.50" y="140.38" width="100.60" height="17.49" fill="#6CBA23" />
<rect x="1680.10" y="140.38" width="100.60" height="17.49" fill="#F7D890" />
<text x="1785.5" y="153.2" font-size="13.3" text-anchor="start" fill="#000" font-family="'Liberation Sans', Arial, sans-serif" >CreatinineCholine</text>
<rect x="1478.90" y="157.87" width="100.60" height="17.49" fill="#1E1080" />
<rect x="1579.50" y="157.87" width="100.60" height="17.49" fill="#66B824" />
<rect x="1680.10" y="157.87" width="100.60" height="17.49" fill="#F7D890" />
<text x="1785.5" y="170.7" font-size="13.3" text-anchor="start" fill="#000" font-family="'Liberation Sans', Arial, sans-serif" >Taurine</text>
<rect x="1478.90" y="175.36" width="100.60" height="17.49" fill="#1E1080" />
<rect x="1579.50" y="175.36" width="100.60" height="17.49" fill="#68B924" />
<rect x="1680.10" y="175.36" width="100.60" height="17.49" fill="#F7D890" />
<text x="1785.5" y="188.2" font-size="13.3" text-anchor="start" fill="#000" font-family="'Liberation Sans', Arial, sans-serif" >Myo1</text>
<rect x="1478.90" y="192.86" width="100.60" height="17.49" fill="#2C1080" />
<rect x="1579.50" y="192.86" width="100.60" height="17.49" fill="#C4E11A" />
<rect x="1680.10" y="192.86" width="100.60" height="17.49" fill="#F7D67A" />
<text x="1785.5" y="205.7" font-size="13.3" text-anchor="start" fill="#000" font-family="'Liberation Sans', Arial, sans-serif" >Myo</text>
<rect x="1478.90" y="210.35" width="100.60" height="17.49" fill="#2C1080" />
<rect x="1579.50" y="210.35" width="100.60" height="17.49" fill="#C8E31A" />
<rect x="1680.10" y="210.35" width="100.60" height="17.49" fill="#F7D67A" />
<text x="1785.5" y="223.2" font-size="13.3" text-anchor="start" fill="#000" font-family="'Liberation Sans', Arial, sans-serif" >Glucose3</text>
<rect x="1478.90" y="227.85" width="100.60" height="17.49" fill="#24107E" />
<rect x="1579.50" y="227.85" width="100.60" height="17.49" fill="#90CA1E" />
<rect x="1680.10" y="227.85" width="100.60" height="17.49" fill="#F7D785" />
<text x="1785.5" y="240.7" font-size="13.3" text-anchor="start" fill="#000" font-family="'Liberation Sans', Arial, sans-serif" >Glucose1</text>
<rect x="1478.90" y="245.34" width="100.60" height="17.49" fill="#22107E" />
<rect x="1579.50" y="245.34" width="100.60" height="17.49" fill="#8DC91E" />
<rect x="1680.10" y="245.34" width="100.60" height="17.49" fill="#F7D785" />
<text x="1785.5" y="258.2" font-size="13.3" text-anchor="start" fill="#000" font-family="'Liberation Sans', Arial, sans-serif" >Thr1</text>
<rect x="1478.90" y="262.84" width="100.60" height="17.49" fill="#22107E" />
<rect x="1579.50" y="262.84" width="100.60" height="17.49" fill="#8BC81E" />
<rect x="1680.10" y="262.84" width="100.60" height="17.49" fill="#F7D785" />
<text x="1785.5" y="275.7" font-size="13.3" text-anchor="start" fill="#000" font-family="'Liberation Sans', Arial, sans-serif" >TauArg</text>
<rect x="1478.90" y="280.33" width="100.60" height="17.49" fill="#22107E" />
<rect x="1579.50" y="280.33" width="100.60" height="17.49" fill="#8BC81E" />
<rect x="1680.10" y="280.33" width="100.60" height="17.49" fill="#F7D785" />
<text x="1785.5" y="293.2" font-size="13.3" text-anchor="start" fill="#000" font-family="'Liberation Sans', Arial, sans-serif" >Glucose</text>
<rect x="1478.90" y="297.82" width="100.60" height="17.49" fill="#2A1080" />
<rect x="1579.50" y="297.82" width="100.60" height="17.49" fill="#A8D31C" />
<rect x="1680.10" y="297.82" width="100.60" height="17.49" fill="#F7D57A" />
<text x="1785.5" y="310.7" font-size="13.3" text-anchor="start" fill="#000" font-family="'Liberation Sans', Arial, sans-serif" >Glucose5</text>
<rect x="1478.90" y="315.32" width="100.60" height="17.49" fill="#28107E" />
<rect x="1579.50" y="315.32" width="100.60" height="17.49" fill="#98CE1D" />
<rect x="1680.10" y="315.32" width="100.60" height="17.49" fill="#F7D57A" />
<text x="1785.5" y="328.2" font-size="13.3" text-anchor="start" fill="#000" font-family="'Liberation Sans', Arial, sans-serif" >Glucose.1</text>
<rect x="1478.90" y="332.81" width="100.60" height="17.49" fill="#28107E" />
<rect x="1579.50" y="332.81" width="100.60" height="17.49" fill="#A0D11C" />
<rect x="1680.10" y="332.81" width="100.60" height="17.49" fill="#F7D57A" />
<text x="1785.5" y="345.6" font-size="13.3" text-anchor="start" fill="#000" font-family="'Liberation Sans', Arial, sans-serif" >Glucose2</text>
<rect x="1478.90" y="350.31" width="100.60" height="17.49" fill="#121C87" />
<rect x="1579.50" y="350.31" width="100.60" height="17.49" fill="#1B9233" />
<rect x="1680.10" y="350.31" width="100.60" height="17.49" fill="#F7DCA8" />
<text x="1785.5" y="363.1" font-size="13.3" text-anchor="start" fill="#000" font-family="'Liberation Sans', Arial, sans-serif" >Tyr</text>
<rect x="1478.90" y="367.80" width="100.60" height="17.49" fill="#131A86" />
<rect x="1579.50" y="367.80" width="100.60" height="17.49" fill="#1A9233" />
<rect x="1680.10" y="367.80" width="100.60" height="17.49" fill="#F7DCA8" />
<text x="1785.5" y="380.6" font-size="13.3" text-anchor="start" fill="#000" font-family="'Liberation Sans', Arial, sans-serif" >Methglutamine</text>
<rect x="1478.90" y="385.29" width="100.60" height="17.49" fill="#131A86" />
<rect x="1579.50" y="385.29" width="100.60" height="17.49" fill="#1A9233" />
<rect x="1680.10" y="385.29" width="100.60" height="17.49" fill="#F7DCA8" />
<text x="1785.5" y="398.1" font-size="13.3" text-anchor="start" fill="#000" font-family="'Liberation Sans', Arial, sans-serif" >Acetate</text>
<rect x="1478.90" y="402.79" width="100.60" height="17.49" fill="#131A86" />
<rect x="1579.50" y="402.79" width="100.60" height="17.49" fill="#1A9233" />
<rect x="1680.10" y="402.79" width="100.60" height="17.49" fill="#F7DCA8" />
<text x="1785.5" y="415.6" font-size="13.3" text-anchor="start" fill="#000" font-family="'Liberation Sans', Arial, sans-serif" >Glutamate</text>
<rect x="1478.90" y="420.28" width="100.60" height="17.49" fill="#131A86" />
<rect x="1579.50" y="420.28" width="100.60" height="17.49" fill="#1A9233" />
<rect x="1680.10" y="420.28" width="100.60" height="17.49" fill="#F7DCA8" />
<text x="1785.5" y="433.1" font-size="13.3" text-anchor="start" fill="#000" font-family="'Liberation Sans', Arial, sans-serif" >Phenyl</text>
<rect x="1478.90" y="437.78" width="100.60" height="17.49" fill="#151888" />
<rect x="1579.50" y="437.78" width="100.60" height="17.49" fill="#1A9233" />
<rect x="1680.10" y="437.78" width="100.60" height="17.49" fill="#F7DCA8" />
<text x="1785.5" y="450.6" font-size="13.3" text-anchor="start" fill="#000" font-family="'Liberation Sans', Arial, sans-serif" >Glutamine</text>
<rect x="1478.90" y="455.27" width="100.60" height="17.49" fill="#17158A" />
<rect x="1579.50" y="455.27" width="100.60" height="17.49" fill="#1A9233" />
<rect x="1680.10" y="455.27" width="100.60" height="17.49" fill="#F7DCA8" />
<text x="1785.5" y="468.1" font-size="13.3" text-anchor="start" fill="#000" font-family="'Liberation Sans', Arial, sans-serif" >Tyr1</text>
<rect x="1478.90" y="472.76" width="100.60" height="17.49" fill="#17158A" />
<rect x="1579.50" y="472.76" width="100.60" height="17.49" fill="#1A9233" />
<rect x="1680.10" y="472.76" width="100.60" height="17.49" fill="#F7DCA8" />
<text x="1785.5" y="485.6" font-size="13.3" text-anchor="start" fill="#000" font-family="'Liberation Sans', Arial, sans-serif" >Alanine</text>
<rect x="1478.90" y="490.26" width="100.60" height="17.49" fill="#17158A" />
<rect x="1579.50" y="490.26" width="100.60" height="17.49" fill="#1A9233" />
<rect x="1680.10" y="490.26" width="100.60" height="17.49" fill="#F7DCA8" />
<text x="1785.5" y="503.1" font-size="13.3" text-anchor="start" fill="#000" font-family="'Liberation Sans', Arial, sans-serif" >Phenyl2</text>
<rect x="1478.90" y="507.75" width="100.60" height="17.49" fill="#17158A" />
<rect x="1579.50" y="507.75" width="100.60" height="17.49" fill="#1A9233" />
<rect x="1680.10" y="507.75" width="100.60" height="17.49" fill="#F7DCA8" />
<text x="1785.5" y="520.6" font-size="13.3" text-anchor="start" fill="#000" font-family="'Liberation Sans', Arial, sans-serif" >Lysarg</text>
<rect x="1478.90" y="525.25" width="100.60" height="17.49" fill="#18138A" />
<rect x="1579.50" y="525.25" width="100.60" height="17.49" fill="#1A9233" />
<rect x="1680.10" y="525.25" width="100.60" height="17.49" fill="#F7DCA8" />
<text x="1785.5" y="538.1" font-size="13.3" text-anchor="start" fill="#000" font-family="'Liberation Sans', Arial, sans-serif" >Proline</text>
<rect x="1478.90" y="542.74" width="100.60" height="17.49" fill="#1A1080" />
<rect x="1579.50" y="542.74" width="100.60" height="17.49" fill="#25972F" />
<rect x="1680.10" y="542.74" width="100.60" height="17.49" fill="#F7DCA8" />
<text x="1785.5" y="555.6" font-size="13.3" text-anchor="start" fill="#000" font-family="'Liberation Sans', Arial, sans-serif" >Leu</text>
<rect x="1478.90" y="560.24" width="100.60" height="17.49" fill="#1B1080" />
<rect x="1579.50" y="560.24" width="100.60" height="17.49" fill="#24962F" />
<rect x="1680.10" y="560.24" width="100.60" height="17.49" fill="#F7DCA8" />
<text x="1785.5" y="573.1" font-size="13.3" text-anchor="start" fill="#000" font-family="'Liberation Sans', Arial, sans-serif" >Thr</text>
<rect x="1478.90" y="577.73" width="100.60" height="17.49" fill="#1B1080" />
<rect x="1579.50" y="577.73" width="100.60" height="17.49" fill="#23962F" />
<rect x="1680.10" y="577.73" width="100.60" height="17.49" fill="#F7DCA8" />
<text x="1785.5" y="590.6" font-size="13.3" text-anchor="start" fill="#000" font-family="'Liberation Sans', Arial, sans-serif" >Hist1</text>
<rect x="1478.90" y="595.22" width="100.60" height="17.49" fill="#1B1080" />
<rect x="1579.50" y="595.22" width="100.60" height="17.49" fill="#22962F" />
<rect x="1680.10" y="595.22" width="100.60" height="17.49" fill="#F7DCA8" />
<text x="1785.5" y="608.1" font-size="13.3" text-anchor="start" fill="#000" font-family="'Liberation Sans', Arial, sans-serif" >leulysarg</text>
<rect x="1478.90" y="612.72" width="100.60" height="17.49" fill="#191382" />
<rect x="1579.50" y="612.72" width="100.60" height="17.49" fill="#1F9432" />
<rect x="1680.10" y="612.72" width="100.60" height="17.49" fill="#F7DCA8" />
<text x="1785.5" y="625.6" font-size="13.3" text-anchor="start" fill="#000" font-family="'Liberation Sans', Arial, sans-serif" >LeuLysArgGlu</text>
<rect x="1478.90" y="630.21" width="100.60" height="17.49" fill="#1C1080" />
<rect x="1579.50" y="630.21" width="100.60" height="17.49" fill="#36A02D" />
<rect x="1680.10" y="630.21" width="100.60" height="17.49" fill="#F7D890" />
<text x="1785.5" y="643.0" font-size="13.3" text-anchor="start" fill="#000" font-family="'Liberation Sans', Arial, sans-serif" >Val</text>
<rect x="1478.90" y="647.71" width="100.60" height="17.49" fill="#1C1080" />
<rect x="1579.50" y="647.71" width="100.60" height="17.49" fill="#36A02D" />
<rect x="1680.10" y="647.71" width="100.60" height="17.49" fill="#F7D890" />
<text x="1785.5" y="660.5" font-size="13.3" text-anchor="start" fill="#000" font-family="'Liberation Sans', Arial, sans-serif" >Val1</text>
<rect x="1478.90" y="665.20" width="100.60" height="17.49" fill="#1C1080" />
<rect x="1579.50" y="665.20" width="100.60" height="17.49" fill="#2E9D2F" />
<rect x="1680.10" y="665.20" width="100.60" height="17.49" fill="#F7D890" />
<text x="1785.5" y="678.0" font-size="13.3" text-anchor="start" fill="#000" font-family="'Liberation Sans', Arial, sans-serif" >NAC</text>
<rect x="1478.90" y="682.69" width="100.60" height="17.49" fill="#1C1080" />
<rect x="1579.50" y="682.69" width="100.60" height="17.49" fill="#2E9D2F" />
<rect x="1680.10" y="682.69" width="100.60" height="17.49" fill="#F7D890" />
<text x="1785.5" y="695.5" font-size="13.3" text-anchor="start" fill="#000" font-family="'Liberation Sans', Arial, sans-serif" >Gly</text>
<rect x="1478.90" y="700.19" width="100.60" height="17.49" fill="#1C1080" />
<rect x="1579.50" y="700.19" width="100.60" height="17.49" fill="#36A02D" />
<rect x="1680.10" y="700.19" width="100.60" height="17.49" fill="#F7D890" />
<text x="1785.5" y="713.0" font-size="13.3" text-anchor="start" fill="#000" font-family="'Liberation Sans', Arial, sans-serif" >Val2</text>
<rect x="1478.90" y="717.68" width="100.60" height="17.49" fill="#1C1080" />
<rect x="1579.50" y="717.68" width="100.60" height="17.49" fill="#36A02D" />
<rect x="1680.10" y="717.68" width="100.60" height="17.49" fill="#F7D890" />
<text x="1785.5" y="730.5" font-size="13.3" text-anchor="start" fill="#000" font-family="'Liberation Sans', Arial, sans-serif" >Urea</text>
<rect x="1478.90" y="735.18" width="100.60" height="17.49" fill="#1EA6CB" />
<rect x="1579.50" y="735.18" width="100.60" height="17.49" fill="#1C78B8" />
<rect x="1680.10" y="735.18" width="100.60" height="17.49" fill="#F7DDB0" />
<text x="1785.5" y="748.0" font-size="13.3" text-anchor="start" fill="#000" font-family="'Liberation Sans', Arial, sans-serif" >Choline</text>
<rect x="1478.90" y="752.67" width="100.60" height="17.49" fill="#12A0CA" />
<rect x="1579.50" y="752.67" width="100.60" height="17.49" fill="#1C78B8" />
<rect x="1680.10" y="752.67" width="100.60" height="17.49" fill="#F7DDB0" />
<text x="1785.5" y="765.5" font-size="13.3" text-anchor="start" fill="#000" font-family="'Liberation Sans', Arial, sans-serif" >Creatine</text>
<rect x="1478.90" y="770.16" width="100.60" height="17.49" fill="#1D3F9B" />
<rect x="1579.50" y="770.16" width="100.60" height="17.49" fill="#1C9233" />
<rect x="1680.10" y="770.16" width="100.60" height="17.49" fill="#F7DDB0" />
<text x="1785.5" y="783.0" font-size="13.3" text-anchor="start" fill="#000" font-family="'Liberation Sans', Arial, sans-serif" >Creatinecreatinine</text>
<rect x="1478.90" y="787.66" width="100.60" height="17.49" fill="#1D56A3" />
<rect x="1579.50" y="787.66" width="100.60" height="17.49" fill="#20ACCF" />
<rect x="1680.10" y="787.66" width="100.60" height="17.49" fill="#F7DDB0" />
<text x="1785.5" y="800.5" font-size="13.3" text-anchor="start" fill="#000" font-family="'Liberation Sans', Arial, sans-serif" >Bet</text>
<rect x="1478.90" y="805.15" width="100.60" height="17.49" fill="#1D2A90" />
<rect x="1579.50" y="805.15" width="100.60" height="17.49" fill="#1A9233" />
<rect x="1680.10" y="805.15" width="100.60" height="17.49" fill="#F7DCB0" />
<text x="1785.5" y="818.0" font-size="13.3" text-anchor="start" fill="#000" font-family="'Liberation Sans', Arial, sans-serif" >Lactate1</text>
<rect x="1478.90" y="822.65" width="100.60" height="17.49" fill="#1B2190" />
<rect x="1579.50" y="822.65" width="100.60" height="17.49" fill="#1A9233" />
<rect x="1680.10" y="822.65" width="100.60" height="17.49" fill="#F7DCB0" />
<text x="1785.5" y="835.5" font-size="13.3" text-anchor="start" fill="#000" font-family="'Liberation Sans', Arial, sans-serif" >Lipid1</text>
<rect x="1478.90" y="840.14" width="100.60" height="17.49" fill="#1D2A90" />
<rect x="1579.50" y="840.14" width="100.60" height="17.49" fill="#1A9233" />
<rect x="1680.10" y="840.14" width="100.60" height="17.49" fill="#F7DCB0" />
<text x="1785.5" y="853.0" font-size="13.3" text-anchor="start" fill="#000" font-family="'Liberation Sans', Arial, sans-serif" >Acetoa</text>
<rect x="1478.90" y="857.64" width="100.60" height="17.49" fill="#1D3A98" />
<rect x="1579.50" y="857.64" width="100.60" height="17.49" fill="#1A9233" />
<rect x="1680.10" y="857.64" width="100.60" height="17.49" fill="#F7DCB0" />
<text x="1785.5" y="870.5" font-size="13.3" text-anchor="start" fill="#000" font-family="'Liberation Sans', Arial, sans-serif" >Phenyl1</text>
<rect x="1478.90" y="875.13" width="100.60" height="17.49" fill="#1D3496" />
<rect x="1579.50" y="875.13" width="100.60" height="17.49" fill="#1A9233" />
<rect x="1680.10" y="875.13" width="100.60" height="17.49" fill="#F7DCB0" />
<text x="1785.5" y="888.0" font-size="13.3" text-anchor="start" fill="#000" font-family="'Liberation Sans', Arial, sans-serif" >Lactate</text>
<rect x="1478.90" y="892.62" width="100.60" height="17.49" fill="#1D3496" />
<rect x="1579.50" y="892.62" width="100.60" height="17.49" fill="#1A9233" />
<rect x="1680.10" y="892.62" width="100.60" height="17.49" fill="#F7DCB0" />
<text x="1785.5" y="905.5" font-size="13.3" text-anchor="start" fill="#000" font-family="'Liberation Sans', Arial, sans-serif" >Pyruvate</text>
<rect x="1478.90" y="910.12" width="100.60" height="17.49" fill="#F7E42E" />
<rect x="1579.50" y="910.12" width="100.60" height="17.49" fill="#F8E81E" />
<rect x="1680.10" y="910.12" width="100.60" height="17.49" fill="#3F1080" />
<text x="1785.5" y="923.0" font-size="13.3" text-anchor="start" fill="#000" font-family="'Liberation Sans', Arial, sans-serif" >Lipid2</text>
<rect x="1478.90" y="927.61" width="100.60" height="17.49" fill="#F7E42E" />
<rect x="1579.50" y="927.61" width="100.60" height="17.49" fill="#3F1080" />
<rect x="1680.10" y="927.61" width="100.60" height="17.49" fill="#F8E81E" />
<text x="1785.5" y="940.4" font-size="13.3" text-anchor="start" fill="#000" font-family="'Liberation Sans', Arial, sans-serif" >3-Hydbut</text>
<rect x="1478.90" y="945.11" width="100.60" height="17.49" fill="#F7DCAA" />
<rect x="1579.50" y="945.11" width="100.60" height="17.49" fill="#1A2890" />
<rect x="1680.10" y="945.11" width="100.60" height="17.49" fill="#1A9233" />
<text x="1785.5" y="957.9" font-size="13.3" text-anchor="start" fill="#000" font-family="'Liberation Sans', Arial, sans-serif" >Lipid</text>
<line x1="1478.90" y1="70.40" x2="1780.70" y2="70.40" stroke="#9A9A9A" stroke-width="1.3" />
<line x1="1478.90" y1="87.89" x2="1780.70" y2="87.89" stroke="#9A9A9A" stroke-width="1.3" />
<line x1="1478.90" y1="105.39" x2="1780.70" y2="105.39" stroke="#9A9A9A" stroke-width="1.3" />
<line x1="1478.90" y1="122.88" x2="1780.70" y2="122.88" stroke="#9A9A9A" stroke-width="1.3" />
<line x1="1478.90" y1="140.38" x2="1780.70" y2="140.38" stroke="#9A9A9A" stroke-width="1.3" />
<line x1="1478.90" y1="157.87" x2="1780.70" y2="157.87" stroke="#9A9A9A" stroke-width="1.3" />
<line x1="1478.90" y1="175.36" x2="1780.70" y2="175.36" stroke="#9A9A9A" stroke-width="1.3" />
<line x1="1478.90" y1="192.86" x2="1780.70" y2="192.86" stroke="#9A9A9A" stroke-width="1.3" />
<line x1="1478.90" y1="210.35" x2="1780.70" y2="210.35" stroke="#9A9A9A" stroke-width="1.3" />
<line x1="1478.90" y1="227.85" x2="1780.70" y2="227.85" stroke="#9A9A9A" stroke-width="1.3" />
<line x1="1478.90" y1="245.34" x2="1780.70" y2="245.34" stroke="#9A9A9A" stroke-width="1.3" />
<line x1="1478.90" y1="262.84" x2="1780.70" y2="262.84" stroke="#9A9A9A" stroke-width="1.3" />
<line x1="1478.90" y1="280.33" x2="1780.70" y2="280.33" stroke="#9A9A9A" stroke-width="1.3" />
<line x1="1478.90" y1="297.82" x2="1780.70" y2="297.82" stroke="#9A9A9A" stroke-width="1.3" />
<line x1="1478.90" y1="315.32" x2="1780.70" y2="315.32" stroke="#9A9A9A" stroke-width="1.3" />
<line x1="1478.90" y1="332.81" x2="1780.70" y2="332.81" stroke="#9A9A9A" stroke-width="1.3" />
<line x1="1478.90" y1="350.31" x2="1780.70" y2="350.31" stroke="#9A9A9A" stroke-width="1.3" />
<line x1="1478.90" y1="367.80" x2="1780.70" y2="367.80" stroke="#9A9A9A" stroke-width="1.3" />
<line x1="1478.90" y1="385.29" x2="1780.70" y2="385.29" stroke="#9A9A9A" stroke-width="1.3" />
<line x1="1478.90" y1="402.79" x2="1780.70" y2="402.79" stroke="#9A9A9A" stroke-width="1.3" />
<line x1="1478.90" y1="420.28" x2="1780.70" y2="420.28" stroke="#9A9A9A" stroke-width="1.3" />
<line x1="1478.90" y1="437.78" x2="1780.70" y2="437.78" stroke="#9A9A9A" stroke-width="1.3" />
<line x1="1478.90" y1="455.27" x2="1780.70" y2="455.27" stroke="#9A9A9A" stroke-width="1.3" />
<line x1="1478.90" y1="472.76" x2="1780.70" y2="472.76" stroke="#9A9A9A" stroke-width="1.3" />
<line x1="1478.90" y1="490.26" x2="1780.70" y2="490.26" stroke="#9A9A9A" stroke-width="1.3" />
<line x1="1478.90" y1="507.75" x2="1780.70" y2="507.75" stroke="#9A9A9A" stroke-width="1.3" />
<line x1="1478.90" y1="525.25" x2="1780.70" y2="525.25" stroke="#9A9A9A" stroke-width="1.3" />
<line x1="1478.90" y1="542.74" x2="1780.70" y2="542.74" stroke="#9A9A9A" stroke-width="1.3" />
<line x1="1478.90" y1="560.24" x2="1780.70" y2="560.24" stroke="#9A9A9A" stroke-width="1.3" />
<line x1="1478.90" y1="577.73" x2="1780.70" y2="577.73" stroke="#9A9A9A" stroke-width="1.3" />
<line x1="1478.90" y1="595.22" x2="1780.70" y2="595.22" stroke="#9A9A9A" stroke-width="1.3" />
<line x1="1478.90" y1="612.72" x2="1780.70" y2="612.72" stroke="#9A9A9A" stroke-width="1.3" />
<line x1="1478.90" y1="630.21" x2="1780.70" y2="630.21" stroke="#9A9A9A" stroke-width="1.3" />
<line x1="1478.90" y1="647.71" x2="1780.70" y2="647.71" stroke="#9A9A9A" stroke-width="1.3" />
<line x1="1478.90" y1="665.20" x2="1780.70" y2="665.20" stroke="#9A9A9A" stroke-width="1.3" />
<line x1="1478.90" y1="682.69" x2="1780.70" y2="682.69" stroke="#9A9A9A" stroke-width="1.3" />
<line x1="1478.90" y1="700.19" x2="1780.70" y2="700.19" stroke="#9A9A9A" stroke-width="1.3" />
<line x1="1478.90" y1="717.68" x2="1780.70" y2="717.68" stroke="#9A9A9A" stroke-width="1.3" />
<line x1="1478.90" y1="735.18" x2="1780.70" y2="735.18" stroke="#9A9A9A" stroke-width="1.3" />
<line x1="1478.90" y1="752.67" x2="1780.70" y2="752.67" stroke="#9A9A9A" stroke-width="1.3" />
<line x1="1478.90" y1="770.16" x2="1780.70" y2="770.16" stroke="#9A9A9A" stroke-width="1.3" />
<line x1="1478.90" y1="787.66" x2="1780.70" y2="787.66" stroke="#9A9A9A" stroke-width="1.3" />
<line x1="1478.90" y1="805.15" x2="1780.70" y2="805.15" stroke="#9A9A9A" stroke-width="1.3" />
<line x1="1478.90" y1="822.65" x2="1780.70" y2="822.65" stroke="#9A9A9A" stroke-width="1.3" />
<line x1="1478.90" y1="840.14" x2="1780.70" y2="840.14" stroke="#9A9A9A" stroke-width="1.3" />
<line x1="1478.90" y1="857.64" x2="1780.70" y2="857.64" stroke="#9A9A9A" stroke-width="1.3" />
<line x1="1478.90" y1="875.13" x2="1780.70" y2="875.13" stroke="#9A9A9A" stroke-width="1.3" />
<line x1="1478.90" y1="892.62" x2="1780.70" y2="892.62" stroke="#9A9A9A" stroke-width="1.3" />
<line x1="1478.90" y1="910.12" x2="1780.70" y2="910.12" stroke="#9A9A9A" stroke-width="1.3" />
<line x1="1478.90" y1="927.61" x2="1780.70" y2="927.61" stroke="#9A9A9A" stroke-width="1.3" />
<line x1="1478.90" y1="945.11" x2="1780.70" y2="945.11" stroke="#9A9A9A" stroke-width="1.3" />
<line x1="1478.90" y1="962.60" x2="1780.70" y2="962.60" stroke="#9A9A9A" stroke-width="1.3" />
<line x1="1478.90" y1="70.40" x2="1478.90" y2="962.60" stroke="#9A9A9A" stroke-width="1.3" />
<line x1="1579.50" y1="70.40" x2="1579.50" y2="962.60" stroke="#9A9A9A" stroke-width="1.3" />
<line x1="1680.10" y1="70.40" x2="1680.10" y2="962.60" stroke="#9A9A9A" stroke-width="1.3" />
<line x1="1780.70" y1="70.40" x2="1780.70" y2="962.60" stroke="#9A9A9A" stroke-width="1.3" />
<rect x="1478.90" y="52.00" width="100.60" height="12.70" fill="#E5178C" />
<rect x="1579.50" y="52.00" width="100.60" height="12.70" fill="#EEF01E" />
<rect x="1680.10" y="52.00" width="100.60" height="12.70" fill="#F21212" />
<line x1="1478.90" y1="52.00" x2="1780.70" y2="52.00" stroke="#9A9A9A" stroke-width="1.3" />
<line x1="1478.90" y1="64.70" x2="1780.70" y2="64.70" stroke="#9A9A9A" stroke-width="1.3" />
<line x1="1478.90" y1="52.00" x2="1478.90" y2="64.70" stroke="#9A9A9A" stroke-width="1.3" />
<line x1="1579.50" y1="52.00" x2="1579.50" y2="64.70" stroke="#9A9A9A" stroke-width="1.3" />
<line x1="1680.10" y1="52.00" x2="1680.10" y2="64.70" stroke="#9A9A9A" stroke-width="1.3" />
<line x1="1780.70" y1="52.00" x2="1780.70" y2="64.70" stroke="#9A9A9A" stroke-width="1.3" />
<text x="1785.6" y="62.4" font-size="13.3" text-anchor="start" fill="#000" font-family="'Liberation Sans', Arial, sans-serif" font-weight="bold" >class</text>
<line x1="1476.00" y1="48.80" x2="1897.00" y2="48.80" stroke="#AAAAAA" stroke-width="1.5" />
<line x1="1529.20" y1="48.80" x2="1529.20" y2="51.50" stroke="#AAAAAA" stroke-width="1.2" />
<line x1="1629.80" y1="48.80" x2="1629.80" y2="51.50" stroke="#AAAAAA" stroke-width="1.2" />
<line x1="1730.40" y1="48.80" x2="1730.40" y2="51.50" stroke="#AAAAAA" stroke-width="1.2" />
<text transform="translate(1524.8,967.4) rotate(90)" font-size="13" font-family="'Liberation Sans', Arial, sans-serif" fill="#222">Mild</text>
<text transform="translate(1625.4,967.4) rotate(90)" font-size="13" font-family="'Liberation Sans', Arial, sans-serif" fill="#222">Mod</text>
<text transform="translate(1726.0,967.4) rotate(90)" font-size="13" font-family="'Liberation Sans', Arial, sans-serif" fill="#222">Sev</text>
<line x1="1475.70" y1="1002.00" x2="1897.00" y2="1002.00" stroke="#111" stroke-width="2.4" />
<line x1="1477.80" y1="353.00" x2="1477.80" y2="627.00" stroke="#777" stroke-width="1.2" />
<line x1="1477.00" y1="751.00" x2="1477.00" y2="821.00" stroke="#222" stroke-width="1.3" />
<line x1="1474.50" y1="786.00" x2="1477.00" y2="786.00" stroke="#222" stroke-width="1.2" />
<line x1="1478.00" y1="821.00" x2="1478.00" y2="850.00" stroke="#888" stroke-width="1.1" />
<line x1="1475.00" y1="918.00" x2="1478.00" y2="918.00" stroke="#222" stroke-width="1.3" />
<path d="M1479 936.5H1476V954H1479" fill="none" stroke="#333" stroke-width="1.1"/>
<rect x="77.60" y="494.90" width="357.40" height="457.90" fill="none" stroke="#111" stroke-width="1.4" />
<line x1="79.60" y1="523.60" x2="433.00" y2="523.60" stroke="#B4B4B4" stroke-width="1.1" stroke-dasharray="2.4,3.1"/>
<circle cx="421.4" cy="523.6" r="4.6" fill="#1E1386" stroke="#000" stroke-width="1"/>
<text x="69.8" y="528.2" font-size="13.9" text-anchor="end" fill="#000" font-family="'Liberation Sans', Arial, sans-serif" >Tyrosine1</text>
<rect x="437.40" y="515.70" width="15.80" height="15.80" fill="#19683A" stroke="#111" stroke-width="1.1" />
<rect x="456.00" y="515.70" width="15.80" height="15.80" fill="#EEE68F" stroke="#111" stroke-width="1.1" />
<rect x="474.60" y="515.70" width="15.80" height="15.80" fill="#A51329" stroke="#111" stroke-width="1.1" />
<line x1="79.60" y1="552.24" x2="433.00" y2="552.24" stroke="#B4B4B4" stroke-width="1.1" stroke-dasharray="2.4,3.1"/>
<circle cx="241.7" cy="552.2" r="4.6" fill="#1E1386" stroke="#000" stroke-width="1"/>
<text x="69.8" y="556.8" font-size="13.9" text-anchor="end" fill="#000" font-family="'Liberation Sans', Arial, sans-serif" >Tryptophan</text>
<rect x="437.40" y="544.34" width="15.80" height="15.80" fill="#19683A" stroke="#111" stroke-width="1.1" />
<rect x="456.00" y="544.34" width="15.80" height="15.80" fill="#EEE68F" stroke="#111" stroke-width="1.1" />
<rect x="474.60" y="544.34" width="15.80" height="15.80" fill="#A51329" stroke="#111" stroke-width="1.1" />
<line x1="79.60" y1="580.88" x2="433.00" y2="580.88" stroke="#B4B4B4" stroke-width="1.1" stroke-dasharray="2.4,3.1"/>
<circle cx="203.5" cy="580.9" r="4.6" fill="#1E1386" stroke="#000" stroke-width="1"/>
<text x="69.8" y="585.5" font-size="13.9" text-anchor="end" fill="#000" font-family="'Liberation Sans', Arial, sans-serif" >Leucine</text>
<rect x="437.40" y="572.98" width="15.80" height="15.80" fill="#19683A" stroke="#111" stroke-width="1.1" />
<rect x="456.00" y="572.98" width="15.80" height="15.80" fill="#EEE68F" stroke="#111" stroke-width="1.1" />
<rect x="474.60" y="572.98" width="15.80" height="15.80" fill="#A51329" stroke="#111" stroke-width="1.1" />
<line x1="79.60" y1="609.52" x2="433.00" y2="609.52" stroke="#B4B4B4" stroke-width="1.1" stroke-dasharray="2.4,3.1"/>
<circle cx="191.5" cy="609.5" r="4.6" fill="#1E1386" stroke="#000" stroke-width="1"/>
<text x="69.8" y="614.1" font-size="13.9" text-anchor="end" fill="#000" font-family="'Liberation Sans', Arial, sans-serif" >Threonine1</text>
<rect x="437.40" y="601.62" width="15.80" height="15.80" fill="#19683A" stroke="#111" stroke-width="1.1" />
<rect x="456.00" y="601.62" width="15.80" height="15.80" fill="#EEE68F" stroke="#111" stroke-width="1.1" />
<rect x="474.60" y="601.62" width="15.80" height="15.80" fill="#A51329" stroke="#111" stroke-width="1.1" />
<line x1="79.60" y1="638.16" x2="433.00" y2="638.16" stroke="#B4B4B4" stroke-width="1.1" stroke-dasharray="2.4,3.1"/>
<circle cx="186.4" cy="638.2" r="4.6" fill="#1E1386" stroke="#000" stroke-width="1"/>
<text x="69.8" y="642.7" font-size="13.9" text-anchor="end" fill="#000" font-family="'Liberation Sans', Arial, sans-serif" >Isoleucine1</text>
<rect x="437.40" y="630.26" width="15.80" height="15.80" fill="#19683A" stroke="#111" stroke-width="1.1" />
<rect x="456.00" y="630.26" width="15.80" height="15.80" fill="#EEE68F" stroke="#111" stroke-width="1.1" />
<rect x="474.60" y="630.26" width="15.80" height="15.80" fill="#A51329" stroke="#111" stroke-width="1.1" />
<line x1="79.60" y1="666.80" x2="433.00" y2="666.80" stroke="#B4B4B4" stroke-width="1.1" stroke-dasharray="2.4,3.1"/>
<circle cx="157.7" cy="666.8" r="4.6" fill="#1E1386" stroke="#000" stroke-width="1"/>
<text x="69.8" y="671.4" font-size="13.9" text-anchor="end" fill="#000" font-family="'Liberation Sans', Arial, sans-serif" >Valine1</text>
<rect x="437.40" y="658.90" width="15.80" height="15.80" fill="#19683A" stroke="#111" stroke-width="1.1" />
<rect x="456.00" y="658.90" width="15.80" height="15.80" fill="#EEE68F" stroke="#111" stroke-width="1.1" />
<rect x="474.60" y="658.90" width="15.80" height="15.80" fill="#A51329" stroke="#111" stroke-width="1.1" />
<line x1="79.60" y1="695.44" x2="433.00" y2="695.44" stroke="#B4B4B4" stroke-width="1.1" stroke-dasharray="2.4,3.1"/>
<circle cx="155.7" cy="695.4" r="4.6" fill="#1E1386" stroke="#000" stroke-width="1"/>
<text x="69.8" y="700.0" font-size="13.9" text-anchor="end" fill="#000" font-family="'Liberation Sans', Arial, sans-serif" >Phenyl2</text>
<rect x="437.40" y="687.54" width="15.80" height="15.80" fill="#19683A" stroke="#111" stroke-width="1.1" />
<rect x="456.00" y="687.54" width="15.80" height="15.80" fill="#EEE68F" stroke="#111" stroke-width="1.1" />
<rect x="474.60" y="687.54" width="15.80" height="15.80" fill="#A51329" stroke="#111" stroke-width="1.1" />
<line x1="79.60" y1="724.08" x2="433.00" y2="724.08" stroke="#B4B4B4" stroke-width="1.1" stroke-dasharray="2.4,3.1"/>
<circle cx="143.5" cy="724.1" r="4.6" fill="#1E1386" stroke="#000" stroke-width="1"/>
<text x="69.8" y="728.7" font-size="13.9" text-anchor="end" fill="#000" font-family="'Liberation Sans', Arial, sans-serif" >Valine</text>
<rect x="437.40" y="716.18" width="15.80" height="15.80" fill="#19683A" stroke="#111" stroke-width="1.1" />
<rect x="456.00" y="716.18" width="15.80" height="15.80" fill="#EEE68F" stroke="#111" stroke-width="1.1" />
<rect x="474.60" y="716.18" width="15.80" height="15.80" fill="#A51329" stroke="#111" stroke-width="1.1" />
<line x1="79.60" y1="752.72" x2="433.00" y2="752.72" stroke="#B4B4B4" stroke-width="1.1" stroke-dasharray="2.4,3.1"/>
<circle cx="134.3" cy="752.7" r="4.6" fill="#1E1386" stroke="#000" stroke-width="1"/>
<text x="69.8" y="757.3" font-size="13.9" text-anchor="end" fill="#000" font-family="'Liberation Sans', Arial, sans-serif" >Phenyl</text>
<rect x="437.40" y="744.82" width="15.80" height="15.80" fill="#19683A" stroke="#111" stroke-width="1.1" />
<rect x="456.00" y="744.82" width="15.80" height="15.80" fill="#EEE68F" stroke="#111" stroke-width="1.1" />
<rect x="474.60" y="744.82" width="15.80" height="15.80" fill="#A51329" stroke="#111" stroke-width="1.1" />
<line x1="79.60" y1="781.36" x2="433.00" y2="781.36" stroke="#B4B4B4" stroke-width="1.1" stroke-dasharray="2.4,3.1"/>
<circle cx="117.1" cy="781.4" r="4.6" fill="#1E1386" stroke="#000" stroke-width="1"/>
<text x="69.8" y="785.9" font-size="13.9" text-anchor="end" fill="#000" font-family="'Liberation Sans', Arial, sans-serif" >Lys/Arg</text>
<rect x="437.40" y="773.46" width="15.80" height="15.80" fill="#19683A" stroke="#111" stroke-width="1.1" />
<rect x="456.00" y="773.46" width="15.80" height="15.80" fill="#EEE68F" stroke="#111" stroke-width="1.1" />
<rect x="474.60" y="773.46" width="15.80" height="15.80" fill="#A51329" stroke="#111" stroke-width="1.1" />
<line x1="79.60" y1="810.00" x2="433.00" y2="810.00" stroke="#B4B4B4" stroke-width="1.1" stroke-dasharray="2.4,3.1"/>
<circle cx="113.4" cy="810.0" r="4.6" fill="#1E1386" stroke="#000" stroke-width="1"/>
<text x="69.8" y="814.6" font-size="13.9" text-anchor="end" fill="#000" font-family="'Liberation Sans', Arial, sans-serif" >Alanine</text>
<rect x="437.40" y="802.10" width="15.80" height="15.80" fill="#19683A" stroke="#111" stroke-width="1.1" />
<rect x="456.00" y="802.10" width="15.80" height="15.80" fill="#EEE68F" stroke="#111" stroke-width="1.1" />
<rect x="474.60" y="802.10" width="15.80" height="15.80" fill="#A51329" stroke="#111" stroke-width="1.1" />
<line x1="79.60" y1="838.64" x2="433.00" y2="838.64" stroke="#B4B4B4" stroke-width="1.1" stroke-dasharray="2.4,3.1"/>
<circle cx="94.5" cy="838.6" r="4.6" fill="#1E1386" stroke="#000" stroke-width="1"/>
<text x="69.8" y="843.2" font-size="13.9" text-anchor="end" fill="#000" font-family="'Liberation Sans', Arial, sans-serif" >Lys/Arg1</text>
<rect x="437.40" y="830.74" width="15.80" height="15.80" fill="#19683A" stroke="#111" stroke-width="1.1" />
<rect x="456.00" y="830.74" width="15.80" height="15.80" fill="#EEE68F" stroke="#111" stroke-width="1.1" />
<rect x="474.60" y="830.74" width="15.80" height="15.80" fill="#A51329" stroke="#111" stroke-width="1.1" />
<line x1="79.60" y1="867.28" x2="433.00" y2="867.28" stroke="#B4B4B4" stroke-width="1.1" stroke-dasharray="2.4,3.1"/>
<circle cx="94.0" cy="867.3" r="4.6" fill="#1E1386" stroke="#000" stroke-width="1"/>
<text x="69.8" y="871.9" font-size="13.9" text-anchor="end" fill="#000" font-family="'Liberation Sans', Arial, sans-serif" >Glu/pro1</text>
<rect x="437.40" y="859.38" width="15.80" height="15.80" fill="#19683A" stroke="#111" stroke-width="1.1" />
<rect x="456.00" y="859.38" width="15.80" height="15.80" fill="#EEE68F" stroke="#111" stroke-width="1.1" />
<rect x="474.60" y="859.38" width="15.80" height="15.80" fill="#A51329" stroke="#111" stroke-width="1.1" />
<line x1="79.60" y1="895.92" x2="433.00" y2="895.92" stroke="#B4B4B4" stroke-width="1.1" stroke-dasharray="2.4,3.1"/>
<circle cx="92.0" cy="895.9" r="4.6" fill="#1E1386" stroke="#000" stroke-width="1"/>
<text x="69.8" y="900.5" font-size="13.9" text-anchor="end" fill="#000" font-family="'Liberation Sans', Arial, sans-serif" >Ser/Phenyl</text>
<rect x="437.40" y="888.02" width="15.80" height="15.80" fill="#19683A" stroke="#111" stroke-width="1.1" />
<rect x="456.00" y="888.02" width="15.80" height="15.80" fill="#EEE68F" stroke="#111" stroke-width="1.1" />
<rect x="474.60" y="888.02" width="15.80" height="15.80" fill="#A51329" stroke="#111" stroke-width="1.1" />
<line x1="79.60" y1="924.56" x2="433.00" y2="924.56" stroke="#B4B4B4" stroke-width="1.1" stroke-dasharray="2.4,3.1"/>
<circle cx="90.6" cy="924.6" r="4.6" fill="#1E1386" stroke="#000" stroke-width="1"/>
<text x="69.8" y="929.1" font-size="13.9" text-anchor="end" fill="#000" font-family="'Liberation Sans', Arial, sans-serif" >Aspartic</text>
<rect x="437.40" y="916.66" width="15.80" height="15.80" fill="#19683A" stroke="#111" stroke-width="1.1" />
<rect x="456.00" y="916.66" width="15.80" height="15.80" fill="#EEE68F" stroke="#111" stroke-width="1.1" />
<rect x="474.60" y="916.66" width="15.80" height="15.80" fill="#A51329" stroke="#111" stroke-width="1.1" />
<line x1="170.10" y1="952.80" x2="170.10" y2="961.30" stroke="#111" stroke-width="1.2" />
<text x="170.1" y="977.3" font-size="15" text-anchor="middle" fill="#222" font-family="'Liberation Sans', Arial, sans-serif" >1.15</text>
<line x1="266.00" y1="952.80" x2="266.00" y2="961.30" stroke="#111" stroke-width="1.2" />
<text x="266.0" y="977.3" font-size="15" text-anchor="middle" fill="#222" font-family="'Liberation Sans', Arial, sans-serif" >1.20</text>
<line x1="361.90" y1="952.80" x2="361.90" y2="961.30" stroke="#111" stroke-width="1.2" />
<text x="361.9" y="977.3" font-size="15" text-anchor="middle" fill="#222" font-family="'Liberation Sans', Arial, sans-serif" >1.25</text>
<text transform="translate(445.5,502.0) rotate(-45)" font-size="13" font-family="'Liberation Sans', Arial, sans-serif" fill="#111">mild</text>
<text transform="translate(464.0,502.0) rotate(-45)" font-size="13" font-family="'Liberation Sans', Arial, sans-serif" fill="#111">mod</text>
<text transform="translate(482.5,502.0) rotate(-45)" font-size="13" font-family="'Liberation Sans', Arial, sans-serif" fill="#111">sev</text>
<text x="187.0" y="491.7" font-size="14.4" font-family="'DejaVu Sans', Verdana, sans-serif" fill="#444" letter-spacing="1.7">Component1 (67.4%)</text>
<text x="256.0" y="997.5" font-size="17" text-anchor="middle" fill="#111" font-family="'Liberation Sans', Arial, sans-serif" >VIP scores</text>
<text x="22.5" y="491.3" font-size="28.5" text-anchor="start" fill="#000" font-family="'Liberation Sans', Arial, sans-serif" >b)</text>
<rect x="1014.60" y="486.80" width="363.20" height="465.20" fill="none" stroke="#111" stroke-width="1.4" />
<line x1="1016.60" y1="515.80" x2="1375.80" y2="515.80" stroke="#B4B4B4" stroke-width="1.1" stroke-dasharray="2.4,3.1"/>
<circle cx="1364.1" cy="515.8" r="4.6" fill="#1E1386" stroke="#000" stroke-width="1"/>
<text x="1007.5" y="520.4" font-size="13.9" text-anchor="end" fill="#000" font-family="'Liberation Sans', Arial, sans-serif" >Phenyl2</text>
<rect x="1382.00" y="507.90" width="15.80" height="15.80" fill="#19683A" stroke="#111" stroke-width="1.1" />
<rect x="1401.10" y="507.90" width="15.80" height="15.80" fill="#EEE68F" stroke="#111" stroke-width="1.1" />
<rect x="1419.90" y="507.90" width="15.80" height="15.80" fill="#A51329" stroke="#111" stroke-width="1.1" />
<line x1="1016.60" y1="544.92" x2="1375.80" y2="544.92" stroke="#B4B4B4" stroke-width="1.1" stroke-dasharray="2.4,3.1"/>
<circle cx="1275.3" cy="544.9" r="4.6" fill="#1E1386" stroke="#000" stroke-width="1"/>
<text x="1007.5" y="549.5" font-size="13.9" text-anchor="end" fill="#000" font-family="'Liberation Sans', Arial, sans-serif" >Tyr1</text>
<rect x="1382.00" y="537.02" width="15.80" height="15.80" fill="#19683A" stroke="#111" stroke-width="1.1" />
<rect x="1401.10" y="537.02" width="15.80" height="15.80" fill="#EEE68F" stroke="#111" stroke-width="1.1" />
<rect x="1419.90" y="537.02" width="15.80" height="15.80" fill="#A51329" stroke="#111" stroke-width="1.1" />
<line x1="1016.60" y1="574.04" x2="1375.80" y2="574.04" stroke="#B4B4B4" stroke-width="1.1" stroke-dasharray="2.4,3.1"/>
<circle cx="1250.3" cy="574.0" r="4.6" fill="#1E1386" stroke="#000" stroke-width="1"/>
<text x="1007.5" y="578.6" font-size="13.9" text-anchor="end" fill="#000" font-family="'Liberation Sans', Arial, sans-serif" >Thr1</text>
<rect x="1382.00" y="566.14" width="15.80" height="15.80" fill="#19683A" stroke="#111" stroke-width="1.1" />
<rect x="1401.10" y="566.14" width="15.80" height="15.80" fill="#EEE68F" stroke="#111" stroke-width="1.1" />
<rect x="1419.90" y="566.14" width="15.80" height="15.80" fill="#A51329" stroke="#111" stroke-width="1.1" />
<line x1="1016.60" y1="603.16" x2="1375.80" y2="603.16" stroke="#B4B4B4" stroke-width="1.1" stroke-dasharray="2.4,3.1"/>
<circle cx="1250.0" cy="603.2" r="4.6" fill="#1E1386" stroke="#000" stroke-width="1"/>
<text x="1007.5" y="607.7" font-size="13.9" text-anchor="end" fill="#000" font-family="'Liberation Sans', Arial, sans-serif" >Tyr</text>
<rect x="1382.00" y="595.26" width="15.80" height="15.80" fill="#19683A" stroke="#111" stroke-width="1.1" />
<rect x="1401.10" y="595.26" width="15.80" height="15.80" fill="#EEE68F" stroke="#111" stroke-width="1.1" />
<rect x="1419.90" y="595.26" width="15.80" height="15.80" fill="#A51329" stroke="#111" stroke-width="1.1" />
<line x1="1016.60" y1="632.28" x2="1375.80" y2="632.28" stroke="#B4B4B4" stroke-width="1.1" stroke-dasharray="2.4,3.1"/>
<circle cx="1239.5" cy="632.3" r="4.6" fill="#1E1386" stroke="#000" stroke-width="1"/>
<text x="1007.5" y="636.9" font-size="13.9" text-anchor="end" fill="#000" font-family="'Liberation Sans', Arial, sans-serif" >Phenyl</text>
<rect x="1382.00" y="624.38" width="15.80" height="15.80" fill="#19683A" stroke="#111" stroke-width="1.1" />
<rect x="1401.10" y="624.38" width="15.80" height="15.80" fill="#EEE68F" stroke="#111" stroke-width="1.1" />
<rect x="1419.90" y="624.38" width="15.80" height="15.80" fill="#A51329" stroke="#111" stroke-width="1.1" />
<line x1="1016.60" y1="661.40" x2="1375.80" y2="661.40" stroke="#B4B4B4" stroke-width="1.1" stroke-dasharray="2.4,3.1"/>
<circle cx="1177.1" cy="661.4" r="4.6" fill="#1E1386" stroke="#000" stroke-width="1"/>
<text x="1007.5" y="666.0" font-size="13.9" text-anchor="end" fill="#000" font-family="'Liberation Sans', Arial, sans-serif" >Proline</text>
<rect x="1382.00" y="653.50" width="15.80" height="15.80" fill="#19683A" stroke="#111" stroke-width="1.1" />
<rect x="1401.10" y="653.50" width="15.80" height="15.80" fill="#EEE68F" stroke="#111" stroke-width="1.1" />
<rect x="1419.90" y="653.50" width="15.80" height="15.80" fill="#A51329" stroke="#111" stroke-width="1.1" />
<line x1="1016.60" y1="690.52" x2="1375.80" y2="690.52" stroke="#B4B4B4" stroke-width="1.1" stroke-dasharray="2.4,3.1"/>
<circle cx="1170.9" cy="690.5" r="4.6" fill="#1E1386" stroke="#000" stroke-width="1"/>
<text x="1007.5" y="695.1" font-size="13.9" text-anchor="end" fill="#000" font-family="'Liberation Sans', Arial, sans-serif" >Alanine</text>
<rect x="1382.00" y="682.62" width="15.80" height="15.80" fill="#19683A" stroke="#111" stroke-width="1.1" />
<rect x="1401.10" y="682.62" width="15.80" height="15.80" fill="#EEE68F" stroke="#111" stroke-width="1.1" />
<rect x="1419.90" y="682.62" width="15.80" height="15.80" fill="#A51329" stroke="#111" stroke-width="1.1" />
<line x1="1016.60" y1="719.64" x2="1375.80" y2="719.64" stroke="#B4B4B4" stroke-width="1.1" stroke-dasharray="2.4,3.1"/>
<circle cx="1143.8" cy="719.6" r="4.6" fill="#1E1386" stroke="#000" stroke-width="1"/>
<text x="1007.5" y="724.2" font-size="13.9" text-anchor="end" fill="#000" font-family="'Liberation Sans', Arial, sans-serif" >Hist1</text>
<rect x="1382.00" y="711.74" width="15.80" height="15.80" fill="#19683A" stroke="#111" stroke-width="1.1" />
<rect x="1401.10" y="711.74" width="15.80" height="15.80" fill="#EEE68F" stroke="#111" stroke-width="1.1" />
<rect x="1419.90" y="711.74" width="15.80" height="15.80" fill="#A51329" stroke="#111" stroke-width="1.1" />
<line x1="1016.60" y1="748.76" x2="1375.80" y2="748.76" stroke="#B4B4B4" stroke-width="1.1" stroke-dasharray="2.4,3.1"/>
<circle cx="1123.6" cy="748.8" r="4.6" fill="#1E1386" stroke="#000" stroke-width="1"/>
<text x="1007.5" y="753.3" font-size="13.9" text-anchor="end" fill="#000" font-family="'Liberation Sans', Arial, sans-serif" >Methglutamine</text>
<rect x="1382.00" y="740.86" width="15.80" height="15.80" fill="#19683A" stroke="#111" stroke-width="1.1" />
<rect x="1401.10" y="740.86" width="15.80" height="15.80" fill="#EEE68F" stroke="#111" stroke-width="1.1" />
<rect x="1419.90" y="740.86" width="15.80" height="15.80" fill="#A51329" stroke="#111" stroke-width="1.1" />
<line x1="1016.60" y1="777.88" x2="1375.80" y2="777.88" stroke="#B4B4B4" stroke-width="1.1" stroke-dasharray="2.4,3.1"/>
<circle cx="1084.9" cy="777.9" r="4.6" fill="#1E1386" stroke="#000" stroke-width="1"/>
<text x="1007.5" y="782.5" font-size="13.9" text-anchor="end" fill="#000" font-family="'Liberation Sans', Arial, sans-serif" >Glutamine</text>
<rect x="1382.00" y="769.98" width="15.80" height="15.80" fill="#19683A" stroke="#111" stroke-width="1.1" />
<rect x="1401.10" y="769.98" width="15.80" height="15.80" fill="#EEE68F" stroke="#111" stroke-width="1.1" />
<rect x="1419.90" y="769.98" width="15.80" height="15.80" fill="#A51329" stroke="#111" stroke-width="1.1" />
<line x1="1016.60" y1="807.00" x2="1375.80" y2="807.00" stroke="#B4B4B4" stroke-width="1.1" stroke-dasharray="2.4,3.1"/>
<circle cx="1084.0" cy="807.0" r="4.6" fill="#1E1386" stroke="#000" stroke-width="1"/>
<text x="1007.5" y="811.6" font-size="13.9" text-anchor="end" fill="#000" font-family="'Liberation Sans', Arial, sans-serif" >leulysarg</text>
<rect x="1382.00" y="799.10" width="15.80" height="15.80" fill="#19683A" stroke="#111" stroke-width="1.1" />
<rect x="1401.10" y="799.10" width="15.80" height="15.80" fill="#EEE68F" stroke="#111" stroke-width="1.1" />
<rect x="1419.90" y="799.10" width="15.80" height="15.80" fill="#A51329" stroke="#111" stroke-width="1.1" />
<line x1="1016.60" y1="836.12" x2="1375.80" y2="836.12" stroke="#B4B4B4" stroke-width="1.1" stroke-dasharray="2.4,3.1"/>
<circle cx="1061.3" cy="836.1" r="4.6" fill="#1E1386" stroke="#000" stroke-width="1"/>
<text x="1007.5" y="840.7" font-size="13.9" text-anchor="end" fill="#000" font-family="'Liberation Sans', Arial, sans-serif" >Glutamate</text>
<rect x="1382.00" y="828.22" width="15.80" height="15.80" fill="#19683A" stroke="#111" stroke-width="1.1" />
<rect x="1401.10" y="828.22" width="15.80" height="15.80" fill="#EEE68F" stroke="#111" stroke-width="1.1" />
<rect x="1419.90" y="828.22" width="15.80" height="15.80" fill="#A51329" stroke="#111" stroke-width="1.1" />
<line x1="1016.60" y1="865.24" x2="1375.80" y2="865.24" stroke="#B4B4B4" stroke-width="1.1" stroke-dasharray="2.4,3.1"/>
<circle cx="1049.3" cy="865.2" r="4.6" fill="#1E1386" stroke="#000" stroke-width="1"/>
<text x="1007.5" y="869.8" font-size="13.9" text-anchor="end" fill="#000" font-family="'Liberation Sans', Arial, sans-serif" >Gly</text>
<rect x="1382.00" y="857.34" width="15.80" height="15.80" fill="#19683A" stroke="#111" stroke-width="1.1" />
<rect x="1401.10" y="857.34" width="15.80" height="15.80" fill="#EEE68F" stroke="#111" stroke-width="1.1" />
<rect x="1419.90" y="857.34" width="15.80" height="15.80" fill="#A51329" stroke="#111" stroke-width="1.1" />
<line x1="1016.60" y1="894.36" x2="1375.80" y2="894.36" stroke="#B4B4B4" stroke-width="1.1" stroke-dasharray="2.4,3.1"/>
<circle cx="1027.7" cy="894.4" r="4.6" fill="#1E1386" stroke="#000" stroke-width="1"/>
<text x="1007.5" y="898.9" font-size="13.9" text-anchor="end" fill="#000" font-family="'Liberation Sans', Arial, sans-serif" >Val</text>
<rect x="1382.00" y="886.46" width="15.80" height="15.80" fill="#19683A" stroke="#111" stroke-width="1.1" />
<rect x="1401.10" y="886.46" width="15.80" height="15.80" fill="#EEE68F" stroke="#111" stroke-width="1.1" />
<rect x="1419.90" y="886.46" width="15.80" height="15.80" fill="#A51329" stroke="#111" stroke-width="1.1" />
<line x1="1016.60" y1="923.48" x2="1375.80" y2="923.48" stroke="#B4B4B4" stroke-width="1.1" stroke-dasharray="2.4,3.1"/>
<circle cx="1027.6" cy="923.5" r="4.6" fill="#1E1386" stroke="#000" stroke-width="1"/>
<text x="1007.5" y="928.1" font-size="13.9" text-anchor="end" fill="#000" font-family="'Liberation Sans', Arial, sans-serif" >Leu</text>
<rect x="1382.00" y="915.58" width="15.80" height="15.80" fill="#19683A" stroke="#111" stroke-width="1.1" />
<rect x="1401.10" y="915.58" width="15.80" height="15.80" fill="#EEE68F" stroke="#111" stroke-width="1.1" />
<rect x="1419.90" y="915.58" width="15.80" height="15.80" fill="#A51329" stroke="#111" stroke-width="1.1" />
<line x1="1053.90" y1="952.00" x2="1053.90" y2="960.50" stroke="#111" stroke-width="1.2" />
<text x="1053.9" y="974.3" font-size="13.5" text-anchor="middle" fill="#222" font-family="'Liberation Sans', Arial, sans-serif" >1.2</text>
<line x1="1112.54" y1="952.00" x2="1112.54" y2="960.50" stroke="#111" stroke-width="1.2" />
<text x="1112.5" y="974.3" font-size="13.5" text-anchor="middle" fill="#222" font-family="'Liberation Sans', Arial, sans-serif" >1.3</text>
<line x1="1171.18" y1="952.00" x2="1171.18" y2="960.50" stroke="#111" stroke-width="1.2" />
<text x="1171.2" y="974.3" font-size="13.5" text-anchor="middle" fill="#222" font-family="'Liberation Sans', Arial, sans-serif" >1.4</text>
<line x1="1229.82" y1="952.00" x2="1229.82" y2="960.50" stroke="#111" stroke-width="1.2" />
<text x="1229.8" y="974.3" font-size="13.5" text-anchor="middle" fill="#222" font-family="'Liberation Sans', Arial, sans-serif" >1.5</text>
<line x1="1288.46" y1="952.00" x2="1288.46" y2="960.50" stroke="#111" stroke-width="1.2" />
<text x="1288.5" y="974.3" font-size="13.5" text-anchor="middle" fill="#222" font-family="'Liberation Sans', Arial, sans-serif" >1.6</text>
<line x1="1347.10" y1="952.00" x2="1347.10" y2="960.50" stroke="#111" stroke-width="1.2" />
<text x="1347.1" y="974.3" font-size="13.5" text-anchor="middle" fill="#222" font-family="'Liberation Sans', Arial, sans-serif" >1.7</text>
<text transform="translate(1390.0,502.0) rotate(-45)" font-size="13" font-family="'Liberation Sans', Arial, sans-serif" fill="#111">Mild</text>
<text transform="translate(1408.5,502.0) rotate(-45)" font-size="13" font-family="'Liberation Sans', Arial, sans-serif" fill="#111">Mod</text>
<text transform="translate(1427.5,502.0) rotate(-45)" font-size="13" font-family="'Liberation Sans', Arial, sans-serif" fill="#111">Sev</text>
<text x="1118.5" y="477.0" font-size="15" font-family="'DejaVu Sans', Verdana, sans-serif" fill="#444" letter-spacing="2.1">Component1 (26.2%)</text>
<text x="1210.3" y="997.0" font-size="17" text-anchor="middle" fill="#111" font-family="'Liberation Sans', Arial, sans-serif" >VIP scores</text>
<text x="955.5" y="489.8" font-size="28.5" text-anchor="start" fill="#000" font-family="'Liberation Sans', Arial, sans-serif" >e)</text>
<rect x="501.30" y="641.90" width="11.80" height="164.00" fill="url(#rdylgn)" />
<text x="493.4" y="633.2" font-size="14" text-anchor="start" fill="#111" font-family="'Liberation Sans', Arial, sans-serif" >High</text>
<text x="495.1" y="825.0" font-size="14" text-anchor="start" fill="#111" font-family="'Liberation Sans', Arial, sans-serif" >Low</text>
<rect x="1447.50" y="636.50" width="11.50" height="166.00" fill="url(#rdylgn)" />
<text x="1439.6" y="627.3" font-size="14" text-anchor="start" fill="#111" font-family="'Liberation Sans', Arial, sans-serif" >High</text>
<text x="1441.0" y="822.4" font-size="14" text-anchor="start" fill="#111" font-family="'Liberation Sans', Arial, sans-serif" >Low</text>
<path d="M107.70 72.30L107.70 424.30M114.64 79.25L114.64 417.35M120.82 85.45L120.82 411.15M126.51 91.14L126.51 405.46M131.60 96.24L131.60 400.36M136.34 100.99L136.34 395.61M140.78 105.44L140.78 391.16M144.87 109.54L144.87 387.06M148.72 113.39L148.72 383.21M152.21 116.89L152.21 379.71M155.25 119.93L155.25 376.67M157.60 122.28L157.60 374.32M107.70 72.30L157.60 122.28M107.70 107.50L157.60 147.49M107.70 142.70L157.60 172.69M107.70 177.90L157.60 197.89M107.70 213.10L157.60 223.10M107.70 248.30L157.60 248.30M107.70 283.50L157.60 273.50M107.70 318.70L157.60 298.71M107.70 353.90L157.60 323.91M107.70 389.10L157.60 349.11M107.70 424.30L157.60 374.32M107.70 424.30L459.10 424.30M114.64 417.35L452.16 417.35M120.82 411.15L445.98 411.15M126.51 405.46L440.29 405.46M131.60 400.36L435.20 400.36M136.34 395.61L430.46 395.61M140.78 391.16L426.02 391.16M144.87 387.06L421.93 387.06M148.72 383.21L418.08 383.21M152.21 379.71L414.59 379.71M155.25 376.67L411.55 376.67M157.60 374.32L409.20 374.32M107.70 424.30L157.60 374.32M142.84 424.30L182.76 374.32M177.98 424.30L207.92 374.32M213.12 424.30L233.08 374.32M248.26 424.30L258.24 374.32M283.40 424.30L283.40 374.32M318.54 424.30L308.56 374.32M353.68 424.30L333.72 374.32M388.82 424.30L358.88 374.32M423.96 424.30L384.04 374.32M459.10 424.30L409.20 374.32M157.60 122.28L157.60 374.32M182.76 122.28L182.76 374.32M207.92 122.28L207.92 374.32M233.08 122.28L233.08 374.32M258.24 122.28L258.24 374.32M283.40 122.28L283.40 374.32M308.56 122.28L308.56 374.32M333.72 122.28L333.72 374.32M358.88 227.70L358.88 374.32M384.04 227.70L384.04 374.32M409.20 122.28L409.20 374.32M157.60 122.28L409.20 122.28M157.60 147.49L333.90 147.49M157.60 172.69L333.90 172.69M157.60 197.89L333.90 197.89M157.60 223.10L333.90 223.10M157.60 248.30L409.20 248.30M157.60 273.50L409.20 273.50M157.60 298.71L409.20 298.71M157.60 323.91L409.20 323.91M157.60 349.11L409.20 349.11M157.60 374.32L409.20 374.32" stroke="#111" stroke-width="1.3" fill="none" stroke-linecap="square"/>
<rect x="334.60" y="123.00" width="74.20" height="104.00" fill="#fff" />
<rect x="336.90" y="124.50" width="63.80" height="96.10" fill="none" stroke="#E2E2E2" stroke-width="1.2" />
<line x1="336.90" y1="151.80" x2="400.70" y2="151.80" stroke="#E2E2E2" stroke-width="1.4" />
<text x="368.3" y="143.2" font-size="13" text-anchor="middle" fill="#222" font-family="'DejaVu Sans', Verdana, sans-serif" >Legend</text>
<circle cx="348.8" cy="164.5" r="6.2" fill="url(#gc)" stroke="#1a1a1a" stroke-opacity="0.5" stroke-width="0.8"/>
<text x="362.0" y="169.1" font-size="13" text-anchor="start" fill="#222" font-family="'DejaVu Sans', Verdana, sans-serif" >mild</text>
<circle cx="348.8" cy="185.2" r="6.2" fill="url(#gg)" stroke="#1a1a1a" stroke-opacity="0.5" stroke-width="0.8"/>
<text x="362.0" y="189.8" font-size="13" text-anchor="start" fill="#222" font-family="'DejaVu Sans', Verdana, sans-serif" >mod</text>
<circle cx="348.8" cy="206.0" r="6.2" fill="url(#gd)" stroke="#1a1a1a" stroke-opacity="0.5" stroke-width="0.8"/>
<text x="362.0" y="210.6" font-size="13" text-anchor="start" fill="#222" font-family="'DejaVu Sans', Verdana, sans-serif" >sev</text>
<text x="102.4" y="112.5" font-size="11" text-anchor="end" fill="#333" font-family="'DejaVu Sans', Verdana, sans-serif" >4</text>
<text x="102.4" y="147.7" font-size="11" text-anchor="end" fill="#333" font-family="'DejaVu Sans', Verdana, sans-serif" >3</text>
<text x="102.4" y="182.9" font-size="11" text-anchor="end" fill="#333" font-family="'DejaVu Sans', Verdana, sans-serif" >2</text>
<text x="102.4" y="218.1" font-size="11" text-anchor="end" fill="#333" font-family="'DejaVu Sans', Verdana, sans-serif" >1</text>
<text x="102.4" y="253.3" font-size="11" text-anchor="end" fill="#333" font-family="'DejaVu Sans', Verdana, sans-serif" >0</text>
<text x="102.4" y="288.5" font-size="11" text-anchor="end" fill="#333" font-family="'DejaVu Sans', Verdana, sans-serif" >-1</text>
<text x="102.4" y="323.7" font-size="11" text-anchor="end" fill="#333" font-family="'DejaVu Sans', Verdana, sans-serif" >-2</text>
<text x="102.4" y="358.9" font-size="11" text-anchor="end" fill="#333" font-family="'DejaVu Sans', Verdana, sans-serif" >-3</text>
<text x="102.4" y="394.1" font-size="11" text-anchor="end" fill="#333" font-family="'DejaVu Sans', Verdana, sans-serif" >-4</text>
<text transform="translate(147.7,430.3) rotate(-90)" font-size="11" text-anchor="end" fill="#333" font-family="'DejaVu Sans', Verdana, sans-serif">-22.5</text>
<text transform="translate(182.9,430.3) rotate(-90)" font-size="11" text-anchor="end" fill="#333" font-family="'DejaVu Sans', Verdana, sans-serif">-15</text>
<text transform="translate(218.0,430.3) rotate(-90)" font-size="11" text-anchor="end" fill="#333" font-family="'DejaVu Sans', Verdana, sans-serif">-7.5</text>
<text transform="translate(253.2,430.3) rotate(-90)" font-size="11" text-anchor="end" fill="#333" font-family="'DejaVu Sans', Verdana, sans-serif">0</text>
<text transform="translate(288.3,430.3) rotate(-90)" font-size="11" text-anchor="end" fill="#333" font-family="'DejaVu Sans', Verdana, sans-serif">7.5</text>
<text transform="translate(323.4,430.3) rotate(-90)" font-size="11" text-anchor="end" fill="#333" font-family="'DejaVu Sans', Verdana, sans-serif">15</text>
<text transform="translate(358.6,430.3) rotate(-90)" font-size="11" text-anchor="end" fill="#333" font-family="'DejaVu Sans', Verdana, sans-serif">22.5</text>
<text transform="translate(393.7,430.3) rotate(-90)" font-size="11" text-anchor="end" fill="#333" font-family="'DejaVu Sans', Verdana, sans-serif">30</text>
<text transform="translate(428.9,430.3) rotate(-90)" font-size="11" text-anchor="end" fill="#333" font-family="'DejaVu Sans', Verdana, sans-serif">37.5</text>
<text transform="translate(39.8,329.0) rotate(-90)" font-size="14" fill="#555" font-family="'DejaVu Sans', Verdana, sans-serif" letter-spacing="1.8">Component2 (3.5%)</text>
<path d="M1041.10 50.50L1041.10 408.20M1048.15 57.30L1048.15 401.45M1054.44 63.36L1054.44 395.43M1060.22 68.94L1060.22 389.89M1065.39 73.93L1065.39 384.94M1070.21 78.58L1070.21 380.33M1074.72 82.93L1074.72 376.01M1078.88 86.94L1078.88 372.02M1082.79 90.71L1082.79 368.28M1086.34 94.13L1086.34 364.88M1089.43 97.11L1089.43 361.92M1091.81 99.41L1091.81 359.64M1041.10 50.50L1091.81 99.41M1041.10 86.27L1091.81 125.44M1041.10 122.04L1091.81 151.46M1041.10 157.81L1091.81 177.48M1041.10 193.58L1091.81 203.50M1041.10 229.35L1091.81 229.53M1041.10 265.12L1091.81 255.55M1041.10 300.89L1091.81 281.57M1041.10 336.66L1091.81 307.60M1041.10 372.43L1091.81 333.62M1041.10 408.20L1091.81 359.64M1041.10 408.20L1404.00 408.20M1048.15 401.45L1397.30 401.45M1054.44 395.43L1391.33 395.43M1060.22 389.89L1385.84 389.89M1065.39 384.94L1380.92 384.94M1070.21 380.33L1376.35 380.33M1074.72 376.01L1372.06 376.01M1078.88 372.02L1368.11 372.02M1082.79 368.28L1364.40 368.28M1086.34 364.88L1361.03 364.88M1089.43 361.92L1358.09 361.92M1091.81 359.64L1355.82 359.64M1041.10 408.20L1091.81 359.64M1077.39 408.20L1118.21 359.64M1113.68 408.20L1144.61 359.64M1149.97 408.20L1171.02 359.64M1186.26 408.20L1197.42 359.64M1222.55 408.20L1223.82 359.64M1258.84 408.20L1250.22 359.64M1295.13 408.20L1276.62 359.64M1331.42 408.20L1303.02 359.64M1367.71 408.20L1329.42 359.64M1404.00 408.20L1355.82 359.64M1091.81 99.41L1091.81 359.64M1118.21 99.41L1118.21 359.64M1144.61 99.41L1144.61 359.64M1171.02 99.41L1171.02 359.64M1197.42 99.41L1197.42 359.64M1223.82 99.41L1223.82 359.64M1250.22 99.41L1250.22 359.64M1276.62 229.10L1276.62 359.64M1303.02 229.10L1303.02 359.64M1329.42 229.10L1329.42 359.64M1355.82 99.41L1355.82 359.64M1091.81 99.41L1355.82 99.41M1091.81 125.44L1261.00 125.44M1091.81 151.46L1261.00 151.46M1091.81 177.48L1261.00 177.48M1091.81 203.50L1261.00 203.50M1091.81 229.53L1355.82 229.53M1091.81 255.55L1355.82 255.55M1091.81 281.57L1355.82 281.57M1091.81 307.60L1355.82 307.60M1091.81 333.62L1355.82 333.62M1091.81 359.64L1355.82 359.64" stroke="#111" stroke-width="1.3" fill="none" stroke-linecap="square"/>
<rect x="1261.70" y="101.00" width="93.20" height="127.50" fill="#fff" />
<rect x="1262.90" y="102.10" width="86.60" height="120.50" fill="none" stroke="#E2E2E2" stroke-width="1.2" />
<line x1="1262.90" y1="137.10" x2="1349.50" y2="137.10" stroke="#E2E2E2" stroke-width="1.4" />
<text x="1306.0" y="126.0" font-size="16" text-anchor="middle" fill="#333" font-family="'DejaVu Sans', Verdana, sans-serif" >Legend</text>
<circle cx="1279.0" cy="153.8" r="8.0" fill="url(#gm)" stroke="#1a1a1a" stroke-opacity="0.5" stroke-width="0.8"/>
<text x="1296.5" y="159.8" font-size="17" text-anchor="start" fill="#444" font-family="'DejaVu Sans', Verdana, sans-serif" >Mild</text>
<circle cx="1279.0" cy="179.6" r="8.0" fill="url(#gy)" stroke="#1a1a1a" stroke-opacity="0.5" stroke-width="0.8"/>
<text x="1296.5" y="185.6" font-size="17" text-anchor="start" fill="#444" font-family="'DejaVu Sans', Verdana, sans-serif" >Mod</text>
<circle cx="1279.0" cy="205.1" r="8.0" fill="url(#gr)" stroke="#1a1a1a" stroke-opacity="0.5" stroke-width="0.8"/>
<text x="1296.5" y="211.1" font-size="17" text-anchor="start" fill="#444" font-family="'DejaVu Sans', Verdana, sans-serif" >Sev</text>
<text x="1034.8" y="91.5" font-size="11" text-anchor="end" fill="#333" font-family="'DejaVu Sans', Verdana, sans-serif" >14</text>
<text x="1034.8" y="127.2" font-size="11" text-anchor="end" fill="#333" font-family="'DejaVu Sans', Verdana, sans-serif" >12</text>
<text x="1034.8" y="163.0" font-size="11" text-anchor="end" fill="#333" font-family="'DejaVu Sans', Verdana, sans-serif" >10</text>
<text x="1034.8" y="198.8" font-size="11" text-anchor="end" fill="#333" font-family="'DejaVu Sans', Verdana, sans-serif" >8</text>
<text x="1034.8" y="234.6" font-size="11" text-anchor="end" fill="#333" font-family="'DejaVu Sans', Verdana, sans-serif" >6</text>
<text x="1034.8" y="270.3" font-size="11" text-anchor="end" fill="#333" font-family="'DejaVu Sans', Verdana, sans-serif" >4</text>
<text x="1034.8" y="306.1" font-size="11" text-anchor="end" fill="#333" font-family="'DejaVu Sans', Verdana, sans-serif" >2</text>
<text x="1034.8" y="341.9" font-size="11" text-anchor="end" fill="#333" font-family="'DejaVu Sans', Verdana, sans-serif" >0</text>
<text x="1034.8" y="377.6" font-size="11" text-anchor="end" fill="#333" font-family="'DejaVu Sans', Verdana, sans-serif" >-2</text>
<text x="1034.8" y="413.4" font-size="11" text-anchor="end" fill="#333" font-family="'DejaVu Sans', Verdana, sans-serif" >-4</text>
<text transform="translate(1082.2,415.5) rotate(-90)" font-size="11" text-anchor="end" fill="#333" font-family="'DejaVu Sans', Verdana, sans-serif">-5</text>
<text transform="translate(1118.5,415.5) rotate(-90)" font-size="11" text-anchor="end" fill="#333" font-family="'DejaVu Sans', Verdana, sans-serif">-2.5</text>
<text transform="translate(1154.8,415.5) rotate(-90)" font-size="11" text-anchor="end" fill="#333" font-family="'DejaVu Sans', Verdana, sans-serif">0</text>
<text transform="translate(1191.1,415.5) rotate(-90)" font-size="11" text-anchor="end" fill="#333" font-family="'DejaVu Sans', Verdana, sans-serif">2.5</text>
<text transform="translate(1227.3,415.5) rotate(-90)" font-size="11" text-anchor="end" fill="#333" font-family="'DejaVu Sans', Verdana, sans-serif">5</text>
<text transform="translate(1263.6,415.5) rotate(-90)" font-size="11" text-anchor="end" fill="#333" font-family="'DejaVu Sans', Verdana, sans-serif">7.5</text>
<text transform="translate(1299.9,415.5) rotate(-90)" font-size="11" text-anchor="end" fill="#333" font-family="'DejaVu Sans', Verdana, sans-serif">10</text>
<text transform="translate(1336.2,415.5) rotate(-90)" font-size="11" text-anchor="end" fill="#333" font-family="'DejaVu Sans', Verdana, sans-serif">12.5</text>
<text transform="translate(1372.5,415.5) rotate(-90)" font-size="11" text-anchor="end" fill="#333" font-family="'DejaVu Sans', Verdana, sans-serif">15</text>
<text transform="translate(1408.8,415.5) rotate(-90)" font-size="11" text-anchor="end" fill="#333" font-family="'DejaVu Sans', Verdana, sans-serif">17.5</text>
<text transform="translate(971.0,315.6) rotate(-90)" font-size="15" fill="#555" font-family="'DejaVu Sans', Verdana, sans-serif" letter-spacing="1.84">Component2 (7.8%)</text>
<circle cx="289.4" cy="134.5" r="5.2" fill="url(#gd)" stroke="#222" stroke-opacity="0.75" stroke-width="0.8"/>
<circle cx="256.3" cy="143.3" r="5.2" fill="url(#gd)" stroke="#222" stroke-opacity="0.75" stroke-width="0.8"/>
<circle cx="260.2" cy="144.6" r="5.2" fill="url(#gd)" stroke="#222" stroke-opacity="0.75" stroke-width="0.8"/>
<circle cx="226.5" cy="147.2" r="5.2" fill="url(#gd)" stroke="#222" stroke-opacity="0.75" stroke-width="0.8"/>
<circle cx="295.2" cy="145.9" r="5.2" fill="url(#gd)" stroke="#222" stroke-opacity="0.75" stroke-width="0.8"/>
<circle cx="306.2" cy="145.3" r="5.2" fill="url(#gd)" stroke="#222" stroke-opacity="0.75" stroke-width="0.8"/>
<circle cx="314.6" cy="150.5" r="5.2" fill="url(#gd)" stroke="#222" stroke-opacity="0.75" stroke-width="0.8"/>
<circle cx="269.3" cy="156.3" r="5.2" fill="url(#gd)" stroke="#222" stroke-opacity="0.75" stroke-width="0.8"/>
<circle cx="207.9" cy="157.6" r="5.2" fill="url(#gg)" stroke="#222" stroke-opacity="0.75" stroke-width="0.8"/>
<circle cx="239.4" cy="165.4" r="5.2" fill="url(#gd)" stroke="#222" stroke-opacity="0.75" stroke-width="0.8"/>
<circle cx="253.7" cy="166.0" r="5.2" fill="url(#gd)" stroke="#222" stroke-opacity="0.75" stroke-width="0.8"/>
<circle cx="260.2" cy="168.6" r="5.2" fill="url(#gd)" stroke="#222" stroke-opacity="0.75" stroke-width="0.8"/>
<circle cx="268.0" cy="171.2" r="5.2" fill="url(#gg)" stroke="#222" stroke-opacity="0.75" stroke-width="0.8"/>
<circle cx="255.3" cy="175.1" r="5.2" fill="url(#gg)" stroke="#222" stroke-opacity="0.75" stroke-width="0.8"/>
<circle cx="262.8" cy="175.7" r="5.2" fill="url(#gd)" stroke="#222" stroke-opacity="0.75" stroke-width="0.8"/>
<circle cx="280.9" cy="168.6" r="5.2" fill="url(#gd)" stroke="#222" stroke-opacity="0.75" stroke-width="0.8"/>
<circle cx="277.0" cy="169.9" r="5.2" fill="url(#gd)" stroke="#222" stroke-opacity="0.75" stroke-width="0.8"/>
<circle cx="288.7" cy="173.2" r="5.2" fill="url(#gd)" stroke="#222" stroke-opacity="0.75" stroke-width="0.8"/>
<circle cx="293.2" cy="173.2" r="5.2" fill="url(#gd)" stroke="#222" stroke-opacity="0.75" stroke-width="0.8"/>
<circle cx="289.4" cy="180.3" r="5.2" fill="url(#gd)" stroke="#222" stroke-opacity="0.75" stroke-width="0.8"/>
<circle cx="309.5" cy="169.3" r="5.2" fill="url(#gd)" stroke="#222" stroke-opacity="0.75" stroke-width="0.8"/>
<circle cx="303.0" cy="175.7" r="5.2" fill="url(#gd)" stroke="#222" stroke-opacity="0.75" stroke-width="0.8"/>
<circle cx="312.7" cy="181.6" r="5.2" fill="url(#gd)" stroke="#222" stroke-opacity="0.75" stroke-width="0.8"/>
<circle cx="280.3" cy="186.1" r="5.2" fill="url(#gd)" stroke="#222" stroke-opacity="0.75" stroke-width="0.8"/>
<circle cx="163.0" cy="177.7" r="5.2" fill="url(#gc)" stroke="#222" stroke-opacity="0.75" stroke-width="0.8"/>
<circle cx="183.1" cy="179.0" r="5.2" fill="url(#gc)" stroke="#222" stroke-opacity="0.75" stroke-width="0.8"/>
<circle cx="206.4" cy="186.4" r="5.2" fill="url(#gg)" stroke="#222" stroke-opacity="0.75" stroke-width="0.8"/>
<circle cx="218.7" cy="186.8" r="5.2" fill="url(#gg)" stroke="#222" stroke-opacity="0.75" stroke-width="0.8"/>
<circle cx="222.6" cy="187.2" r="5.2" fill="url(#gg)" stroke="#222" stroke-opacity="0.75" stroke-width="0.8"/>
<circle cx="238.8" cy="186.1" r="5.2" fill="url(#gd)" stroke="#222" stroke-opacity="0.75" stroke-width="0.8"/>
<circle cx="249.8" cy="184.8" r="5.2" fill="url(#gg)" stroke="#222" stroke-opacity="0.75" stroke-width="0.8"/>
<circle cx="254.4" cy="193.2" r="5.2" fill="url(#gg)" stroke="#222" stroke-opacity="0.75" stroke-width="0.8"/>
<circle cx="252.4" cy="197.1" r="5.2" fill="url(#gg)" stroke="#222" stroke-opacity="0.75" stroke-width="0.8"/>
<circle cx="209.2" cy="195.8" r="5.2" fill="url(#gg)" stroke="#222" stroke-opacity="0.75" stroke-width="0.8"/>
<circle cx="172.7" cy="204.9" r="5.2" fill="url(#gc)" stroke="#222" stroke-opacity="0.75" stroke-width="0.8"/>
<circle cx="230.4" cy="206.9" r="5.2" fill="url(#gg)" stroke="#222" stroke-opacity="0.75" stroke-width="0.8"/>
<circle cx="236.9" cy="206.2" r="5.2" fill="url(#gg)" stroke="#222" stroke-opacity="0.75" stroke-width="0.8"/>
<circle cx="252.4" cy="208.2" r="5.2" fill="url(#gd)" stroke="#222" stroke-opacity="0.75" stroke-width="0.8"/>
<circle cx="258.9" cy="210.7" r="5.2" fill="url(#gg)" stroke="#222" stroke-opacity="0.75" stroke-width="0.8"/>
<circle cx="263.4" cy="206.2" r="5.2" fill="url(#gg)" stroke="#222" stroke-opacity="0.75" stroke-width="0.8"/>
<circle cx="268.6" cy="200.4" r="5.2" fill="url(#gg)" stroke="#222" stroke-opacity="0.75" stroke-width="0.8"/>
<circle cx="278.3" cy="204.9" r="5.2" fill="url(#gd)" stroke="#222" stroke-opacity="0.75" stroke-width="0.8"/>
<circle cx="275.1" cy="219.2" r="5.2" fill="url(#gg)" stroke="#222" stroke-opacity="0.75" stroke-width="0.8"/>
<circle cx="187.6" cy="211.4" r="5.2" fill="url(#gc)" stroke="#222" stroke-opacity="0.75" stroke-width="0.8"/>
<circle cx="196.7" cy="210.1" r="5.2" fill="url(#gc)" stroke="#222" stroke-opacity="0.75" stroke-width="0.8"/>
<circle cx="207.0" cy="212.0" r="5.2" fill="url(#gc)" stroke="#222" stroke-opacity="0.75" stroke-width="0.8"/>
<circle cx="210.3" cy="209.4" r="5.2" fill="url(#gc)" stroke="#222" stroke-opacity="0.75" stroke-width="0.8"/>
<circle cx="190.2" cy="217.9" r="5.2" fill="url(#gc)" stroke="#222" stroke-opacity="0.75" stroke-width="0.8"/>
<circle cx="196.7" cy="219.8" r="5.2" fill="url(#gc)" stroke="#222" stroke-opacity="0.75" stroke-width="0.8"/>
<circle cx="209.6" cy="217.9" r="5.2" fill="url(#gc)" stroke="#222" stroke-opacity="0.75" stroke-width="0.8"/>
<circle cx="205.7" cy="222.4" r="5.2" fill="url(#gc)" stroke="#222" stroke-opacity="0.75" stroke-width="0.8"/>
<circle cx="196.7" cy="235.4" r="5.2" fill="url(#gc)" stroke="#222" stroke-opacity="0.75" stroke-width="0.8"/>
<circle cx="193.4" cy="243.8" r="5.2" fill="url(#gc)" stroke="#222" stroke-opacity="0.75" stroke-width="0.8"/>
<circle cx="303.0" cy="239.3" r="5.2" fill="url(#gd)" stroke="#222" stroke-opacity="0.75" stroke-width="0.8"/>
<circle cx="336.7" cy="238.0" r="5.2" fill="url(#gd)" stroke="#222" stroke-opacity="0.75" stroke-width="0.8"/>
<circle cx="269.4" cy="271.4" r="5.2" fill="url(#gg)" stroke="#222" stroke-opacity="0.75" stroke-width="0.8"/>
<circle cx="236.2" cy="247.5" r="5.2" fill="url(#gg)" stroke="#222" stroke-opacity="0.75" stroke-width="0.8"/>
<circle cx="279.2" cy="250.4" r="5.2" fill="url(#gg)" stroke="#222" stroke-opacity="0.75" stroke-width="0.8"/>
<circle cx="290.9" cy="257.4" r="5.2" fill="url(#gg)" stroke="#222" stroke-opacity="0.75" stroke-width="0.8"/>
<circle cx="228.1" cy="255.3" r="5.2" fill="url(#gg)" stroke="#222" stroke-opacity="0.75" stroke-width="0.8"/>
<circle cx="216.4" cy="256.5" r="5.2" fill="url(#gc)" stroke="#222" stroke-opacity="0.75" stroke-width="0.8"/>
<circle cx="220.9" cy="257.1" r="5.2" fill="url(#gc)" stroke="#222" stroke-opacity="0.75" stroke-width="0.8"/>
<circle cx="220.0" cy="263.3" r="5.2" fill="url(#gc)" stroke="#222" stroke-opacity="0.75" stroke-width="0.8"/>
<circle cx="224.5" cy="267.8" r="5.2" fill="url(#gc)" stroke="#222" stroke-opacity="0.75" stroke-width="0.8"/>
<circle cx="180.5" cy="270.2" r="5.2" fill="url(#gc)" stroke="#222" stroke-opacity="0.75" stroke-width="0.8"/>
<circle cx="159.9" cy="278.1" r="5.2" fill="url(#gc)" stroke="#222" stroke-opacity="0.75" stroke-width="0.8"/>
<circle cx="195.8" cy="277.7" r="5.2" fill="url(#gc)" stroke="#222" stroke-opacity="0.75" stroke-width="0.8"/>
<circle cx="203.9" cy="284.0" r="5.2" fill="url(#gc)" stroke="#222" stroke-opacity="0.75" stroke-width="0.8"/>
<circle cx="166.2" cy="293.0" r="5.2" fill="url(#gc)" stroke="#222" stroke-opacity="0.75" stroke-width="0.8"/>
<circle cx="201.2" cy="296.5" r="5.2" fill="url(#gc)" stroke="#222" stroke-opacity="0.75" stroke-width="0.8"/>
<circle cx="193.1" cy="303.7" r="5.2" fill="url(#gc)" stroke="#222" stroke-opacity="0.75" stroke-width="0.8"/>
<circle cx="220.0" cy="284.9" r="5.2" fill="url(#gc)" stroke="#222" stroke-opacity="0.75" stroke-width="0.8"/>
<circle cx="223.6" cy="290.3" r="5.2" fill="url(#gc)" stroke="#222" stroke-opacity="0.75" stroke-width="0.8"/>
<circle cx="232.6" cy="292.4" r="5.2" fill="url(#gc)" stroke="#222" stroke-opacity="0.75" stroke-width="0.8"/>
<circle cx="217.3" cy="310.0" r="5.2" fill="url(#gc)" stroke="#222" stroke-opacity="0.75" stroke-width="0.8"/>
<circle cx="226.3" cy="275.9" r="5.2" fill="url(#gg)" stroke="#222" stroke-opacity="0.75" stroke-width="0.8"/>
<circle cx="239.8" cy="271.4" r="5.2" fill="url(#gg)" stroke="#222" stroke-opacity="0.75" stroke-width="0.8"/>
<circle cx="245.1" cy="272.3" r="5.2" fill="url(#gg)" stroke="#222" stroke-opacity="0.75" stroke-width="0.8"/>
<circle cx="249.6" cy="266.9" r="5.2" fill="url(#gg)" stroke="#222" stroke-opacity="0.75" stroke-width="0.8"/>
<circle cx="252.3" cy="259.7" r="5.2" fill="url(#gg)" stroke="#222" stroke-opacity="0.75" stroke-width="0.8"/>
<circle cx="279.2" cy="266.0" r="5.2" fill="url(#gg)" stroke="#222" stroke-opacity="0.75" stroke-width="0.8"/>
<circle cx="239.8" cy="281.3" r="5.2" fill="url(#gg)" stroke="#222" stroke-opacity="0.75" stroke-width="0.8"/>
<circle cx="241.5" cy="285.8" r="5.2" fill="url(#gg)" stroke="#222" stroke-opacity="0.75" stroke-width="0.8"/>
<circle cx="250.5" cy="283.1" r="5.2" fill="url(#gg)" stroke="#222" stroke-opacity="0.75" stroke-width="0.8"/>
<circle cx="249.6" cy="293.9" r="5.2" fill="url(#gg)" stroke="#222" stroke-opacity="0.75" stroke-width="0.8"/>
<circle cx="259.5" cy="288.5" r="5.2" fill="url(#gg)" stroke="#222" stroke-opacity="0.75" stroke-width="0.8"/>
<circle cx="261.3" cy="280.4" r="5.2" fill="url(#gg)" stroke="#222" stroke-opacity="0.75" stroke-width="0.8"/>
<circle cx="266.7" cy="293.0" r="5.2" fill="url(#gg)" stroke="#222" stroke-opacity="0.75" stroke-width="0.8"/>
<circle cx="273.9" cy="278.6" r="5.2" fill="url(#gg)" stroke="#222" stroke-opacity="0.75" stroke-width="0.8"/>
<circle cx="273.9" cy="284.9" r="5.2" fill="url(#gg)" stroke="#222" stroke-opacity="0.75" stroke-width="0.8"/>
<circle cx="283.7" cy="275.9" r="5.2" fill="url(#gd)" stroke="#222" stroke-opacity="0.75" stroke-width="0.8"/>
<circle cx="281.0" cy="295.6" r="5.2" fill="url(#gg)" stroke="#222" stroke-opacity="0.75" stroke-width="0.8"/>
<circle cx="290.9" cy="292.1" r="5.2" fill="url(#gg)" stroke="#222" stroke-opacity="0.75" stroke-width="0.8"/>
<circle cx="303.5" cy="298.3" r="5.2" fill="url(#gd)" stroke="#222" stroke-opacity="0.75" stroke-width="0.8"/>
<circle cx="226.3" cy="300.1" r="5.2" fill="url(#gg)" stroke="#222" stroke-opacity="0.75" stroke-width="0.8"/>
<circle cx="234.4" cy="302.8" r="5.2" fill="url(#gg)" stroke="#222" stroke-opacity="0.75" stroke-width="0.8"/>
<circle cx="237.1" cy="312.7" r="5.2" fill="url(#gg)" stroke="#222" stroke-opacity="0.75" stroke-width="0.8"/>
<circle cx="237.1" cy="323.5" r="5.2" fill="url(#gg)" stroke="#222" stroke-opacity="0.75" stroke-width="0.8"/>
<circle cx="259.5" cy="309.1" r="5.2" fill="url(#gg)" stroke="#222" stroke-opacity="0.75" stroke-width="0.8"/>
<circle cx="258.6" cy="316.3" r="5.2" fill="url(#gg)" stroke="#222" stroke-opacity="0.75" stroke-width="0.8"/>
<circle cx="270.3" cy="305.5" r="5.2" fill="url(#gg)" stroke="#222" stroke-opacity="0.75" stroke-width="0.8"/>
<circle cx="289.1" cy="312.7" r="5.2" fill="url(#gg)" stroke="#222" stroke-opacity="0.75" stroke-width="0.8"/>
<circle cx="264.0" cy="328.0" r="5.2" fill="url(#gg)" stroke="#222" stroke-opacity="0.75" stroke-width="0.8"/>
<circle cx="262.2" cy="345.0" r="5.2" fill="url(#gg)" stroke="#222" stroke-opacity="0.75" stroke-width="0.8"/>
<circle cx="258.6" cy="354.0" r="5.2" fill="url(#gg)" stroke="#222" stroke-opacity="0.75" stroke-width="0.8"/>
<circle cx="266.7" cy="363.0" r="5.2" fill="url(#gg)" stroke="#222" stroke-opacity="0.75" stroke-width="0.8"/>
<circle cx="317.8" cy="348.6" r="5.2" fill="url(#gd)" stroke="#222" stroke-opacity="0.75" stroke-width="0.8"/>
<circle cx="243.3" cy="369.2" r="5.2" fill="url(#gc)" stroke="#222" stroke-opacity="0.75" stroke-width="0.8"/>
<circle cx="241.5" cy="372.8" r="5.2" fill="url(#gc)" stroke="#222" stroke-opacity="0.75" stroke-width="0.8"/>
<circle cx="266.7" cy="382.7" r="5.2" fill="url(#gg)" stroke="#222" stroke-opacity="0.75" stroke-width="0.8"/>
<circle cx="240.6" cy="405.1" r="5.2" fill="url(#gc)" stroke="#222" stroke-opacity="0.75" stroke-width="0.8"/>
<circle cx="302.6" cy="267.8" r="5.2" fill="url(#gd)" stroke="#222" stroke-opacity="0.75" stroke-width="0.8"/>
<circle cx="308.9" cy="273.2" r="5.2" fill="url(#gd)" stroke="#222" stroke-opacity="0.75" stroke-width="0.8"/>
<circle cx="311.6" cy="263.3" r="5.2" fill="url(#gd)" stroke="#222" stroke-opacity="0.75" stroke-width="0.8"/>
<circle cx="314.2" cy="278.6" r="5.2" fill="url(#gd)" stroke="#222" stroke-opacity="0.75" stroke-width="0.8"/>
<circle cx="322.3" cy="277.7" r="5.2" fill="url(#gd)" stroke="#222" stroke-opacity="0.75" stroke-width="0.8"/>
<circle cx="341.2" cy="264.2" r="5.2" fill="url(#gd)" stroke="#222" stroke-opacity="0.75" stroke-width="0.8"/>
<circle cx="319.6" cy="247.2" r="5.2" fill="url(#gd)" stroke="#222" stroke-opacity="0.75" stroke-width="0.8"/>
<circle cx="314.2" cy="250.8" r="5.2" fill="url(#gd)" stroke="#222" stroke-opacity="0.75" stroke-width="0.8"/>
<circle cx="307.1" cy="248.1" r="5.2" fill="url(#gd)" stroke="#222" stroke-opacity="0.75" stroke-width="0.8"/>
<circle cx="1093.1" cy="216.1" r="3.9" fill="url(#gy)" stroke="#222" stroke-opacity="0.75" stroke-width="0.8"/>
<circle cx="1094.3" cy="244.9" r="5.9" fill="url(#gy)" stroke="#222" stroke-opacity="0.75" stroke-width="0.8"/>
<circle cx="1101.2" cy="248.4" r="5.9" fill="url(#gm)" stroke="#222" stroke-opacity="0.75" stroke-width="0.8"/>
<circle cx="1083.5" cy="257.2" r="5.9" fill="url(#gm)" stroke="#222" stroke-opacity="0.75" stroke-width="0.8"/>
<circle cx="1178.6" cy="249.0" r="5.9" fill="url(#gr)" stroke="#222" stroke-opacity="0.75" stroke-width="0.8"/>
<circle cx="1181.6" cy="252.0" r="5.9" fill="url(#gr)" stroke="#222" stroke-opacity="0.75" stroke-width="0.8"/>
<circle cx="1170.8" cy="264.6" r="5.9" fill="url(#gy)" stroke="#222" stroke-opacity="0.75" stroke-width="0.8"/>
<circle cx="1167.8" cy="275.4" r="5.9" fill="url(#gy)" stroke="#222" stroke-opacity="0.75" stroke-width="0.8"/>
<circle cx="1102.0" cy="277.8" r="5.9" fill="url(#gm)" stroke="#222" stroke-opacity="0.75" stroke-width="0.8"/>
<circle cx="1118.2" cy="276.6" r="5.9" fill="url(#gy)" stroke="#222" stroke-opacity="0.75" stroke-width="0.8"/>
<circle cx="1106.8" cy="287.3" r="5.9" fill="url(#gy)" stroke="#222" stroke-opacity="0.75" stroke-width="0.8"/>
<circle cx="1118.2" cy="295.1" r="5.9" fill="url(#gy)" stroke="#222" stroke-opacity="0.75" stroke-width="0.8"/>
<circle cx="1195.9" cy="275.4" r="5.9" fill="url(#gr)" stroke="#222" stroke-opacity="0.75" stroke-width="0.8"/>
<circle cx="1190.6" cy="283.7" r="5.9" fill="url(#gr)" stroke="#222" stroke-opacity="0.75" stroke-width="0.8"/>
<circle cx="1109.8" cy="299.8" r="5.9" fill="url(#gm)" stroke="#222" stroke-opacity="0.75" stroke-width="0.8"/>
<circle cx="1116.0" cy="306.0" r="5.9" fill="url(#gm)" stroke="#222" stroke-opacity="0.75" stroke-width="0.8"/>
<circle cx="1124.4" cy="304.0" r="5.9" fill="url(#gm)" stroke="#222" stroke-opacity="0.75" stroke-width="0.8"/>
<circle cx="1132.8" cy="306.0" r="5.9" fill="url(#gm)" stroke="#222" stroke-opacity="0.75" stroke-width="0.8"/>
<circle cx="1105.6" cy="310.2" r="5.9" fill="url(#gm)" stroke="#222" stroke-opacity="0.75" stroke-width="0.8"/>
<circle cx="1117.4" cy="313.0" r="5.9" fill="url(#gm)" stroke="#222" stroke-opacity="0.75" stroke-width="0.8"/>
<circle cx="1132.1" cy="315.8" r="5.9" fill="url(#gm)" stroke="#222" stroke-opacity="0.75" stroke-width="0.8"/>
<circle cx="1091.6" cy="312.3" r="5.9" fill="url(#gm)" stroke="#222" stroke-opacity="0.75" stroke-width="0.8"/>
<circle cx="1107.0" cy="320.0" r="5.9" fill="url(#gm)" stroke="#222" stroke-opacity="0.75" stroke-width="0.8"/>
<circle cx="1118.1" cy="322.1" r="5.9" fill="url(#gm)" stroke="#222" stroke-opacity="0.75" stroke-width="0.8"/>
<circle cx="1129.3" cy="324.9" r="5.9" fill="url(#gm)" stroke="#222" stroke-opacity="0.75" stroke-width="0.8"/>
<circle cx="1093.0" cy="327.7" r="5.9" fill="url(#gm)" stroke="#222" stroke-opacity="0.75" stroke-width="0.8"/>
<circle cx="1100.7" cy="323.5" r="5.9" fill="url(#gm)" stroke="#222" stroke-opacity="0.75" stroke-width="0.8"/>
<circle cx="1111.9" cy="328.4" r="5.9" fill="url(#gm)" stroke="#222" stroke-opacity="0.75" stroke-width="0.8"/>
<circle cx="1100.0" cy="334.0" r="5.9" fill="url(#gm)" stroke="#222" stroke-opacity="0.75" stroke-width="0.8"/>
<circle cx="1094.4" cy="336.0" r="5.9" fill="url(#gm)" stroke="#222" stroke-opacity="0.75" stroke-width="0.8"/>
<circle cx="1077.7" cy="331.9" r="5.9" fill="url(#gm)" stroke="#222" stroke-opacity="0.75" stroke-width="0.8"/>
<circle cx="1072.1" cy="343.7" r="5.9" fill="url(#gm)" stroke="#222" stroke-opacity="0.75" stroke-width="0.8"/>
<circle cx="1085.3" cy="344.4" r="5.9" fill="url(#gm)" stroke="#222" stroke-opacity="0.75" stroke-width="0.8"/>
<circle cx="1073.5" cy="350.7" r="5.9" fill="url(#gm)" stroke="#222" stroke-opacity="0.75" stroke-width="0.8"/>
<circle cx="1066.5" cy="350.7" r="5.9" fill="url(#gm)" stroke="#222" stroke-opacity="0.75" stroke-width="0.8"/>
<circle cx="1067.9" cy="356.3" r="5.9" fill="url(#gm)" stroke="#222" stroke-opacity="0.75" stroke-width="0.8"/>
<circle cx="1098.6" cy="343.7" r="5.9" fill="url(#gm)" stroke="#222" stroke-opacity="0.75" stroke-width="0.8"/>
<circle cx="1111.2" cy="340.2" r="5.9" fill="url(#gm)" stroke="#222" stroke-opacity="0.75" stroke-width="0.8"/>
<circle cx="1119.5" cy="346.5" r="5.9" fill="url(#gm)" stroke="#222" stroke-opacity="0.75" stroke-width="0.8"/>
<circle cx="1126.5" cy="350.7" r="5.9" fill="url(#gm)" stroke="#222" stroke-opacity="0.75" stroke-width="0.8"/>
<circle cx="1136.3" cy="347.9" r="5.9" fill="url(#gm)" stroke="#222" stroke-opacity="0.75" stroke-width="0.8"/>
<circle cx="1133.5" cy="334.0" r="5.9" fill="url(#gm)" stroke="#222" stroke-opacity="0.75" stroke-width="0.8"/>
<circle cx="1098.6" cy="352.1" r="5.9" fill="url(#gm)" stroke="#222" stroke-opacity="0.75" stroke-width="0.8"/>
<circle cx="1109.8" cy="356.3" r="5.9" fill="url(#gm)" stroke="#222" stroke-opacity="0.75" stroke-width="0.8"/>
<circle cx="1118.8" cy="358.4" r="5.9" fill="url(#gm)" stroke="#222" stroke-opacity="0.75" stroke-width="0.8"/>
<circle cx="1130.7" cy="356.3" r="5.9" fill="url(#gm)" stroke="#222" stroke-opacity="0.75" stroke-width="0.8"/>
<circle cx="1089.5" cy="358.4" r="5.9" fill="url(#gm)" stroke="#222" stroke-opacity="0.75" stroke-width="0.8"/>
<circle cx="1068.6" cy="364.6" r="5.9" fill="url(#gm)" stroke="#222" stroke-opacity="0.75" stroke-width="0.8"/>
<circle cx="1114.6" cy="365.3" r="5.9" fill="url(#gm)" stroke="#222" stroke-opacity="0.75" stroke-width="0.8"/>
<circle cx="1133.5" cy="373.7" r="5.9" fill="url(#gm)" stroke="#222" stroke-opacity="0.75" stroke-width="0.8"/>
<circle cx="1110.5" cy="384.2" r="5.9" fill="url(#gm)" stroke="#222" stroke-opacity="0.75" stroke-width="0.8"/>
<circle cx="1143.3" cy="353.5" r="5.9" fill="url(#gm)" stroke="#222" stroke-opacity="0.75" stroke-width="0.8"/>
<circle cx="1146.7" cy="285.1" r="5.9" fill="url(#gy)" stroke="#222" stroke-opacity="0.75" stroke-width="0.8"/>
<circle cx="1155.1" cy="281.6" r="5.9" fill="url(#gy)" stroke="#222" stroke-opacity="0.75" stroke-width="0.8"/>
<circle cx="1157.9" cy="289.3" r="5.9" fill="url(#gy)" stroke="#222" stroke-opacity="0.75" stroke-width="0.8"/>
<circle cx="1155.8" cy="296.3" r="5.9" fill="url(#gy)" stroke="#222" stroke-opacity="0.75" stroke-width="0.8"/>
<circle cx="1164.2" cy="296.3" r="5.9" fill="url(#gy)" stroke="#222" stroke-opacity="0.75" stroke-width="0.8"/>
<circle cx="1179.5" cy="296.3" r="5.9" fill="url(#gy)" stroke="#222" stroke-opacity="0.75" stroke-width="0.8"/>
<circle cx="1139.1" cy="302.6" r="5.9" fill="url(#gy)" stroke="#222" stroke-opacity="0.75" stroke-width="0.8"/>
<circle cx="1143.3" cy="310.2" r="5.9" fill="url(#gy)" stroke="#222" stroke-opacity="0.75" stroke-width="0.8"/>
<circle cx="1154.4" cy="306.0" r="5.9" fill="url(#gy)" stroke="#222" stroke-opacity="0.75" stroke-width="0.8"/>
<circle cx="1162.8" cy="310.9" r="5.9" fill="url(#gy)" stroke="#222" stroke-opacity="0.75" stroke-width="0.8"/>
<circle cx="1173.9" cy="313.0" r="5.9" fill="url(#gy)" stroke="#222" stroke-opacity="0.75" stroke-width="0.8"/>
<circle cx="1151.6" cy="317.2" r="5.9" fill="url(#gy)" stroke="#222" stroke-opacity="0.75" stroke-width="0.8"/>
<circle cx="1154.4" cy="321.4" r="5.9" fill="url(#gy)" stroke="#222" stroke-opacity="0.75" stroke-width="0.8"/>
<circle cx="1136.3" cy="317.2" r="5.9" fill="url(#gy)" stroke="#222" stroke-opacity="0.75" stroke-width="0.8"/>
<circle cx="1125.1" cy="331.2" r="5.9" fill="url(#gy)" stroke="#222" stroke-opacity="0.75" stroke-width="0.8"/>
<circle cx="1128.6" cy="337.4" r="5.9" fill="url(#gy)" stroke="#222" stroke-opacity="0.75" stroke-width="0.8"/>
<circle cx="1144.6" cy="329.8" r="5.9" fill="url(#gy)" stroke="#222" stroke-opacity="0.75" stroke-width="0.8"/>
<circle cx="1144.6" cy="336.0" r="5.9" fill="url(#gy)" stroke="#222" stroke-opacity="0.75" stroke-width="0.8"/>
<circle cx="1157.2" cy="335.3" r="5.9" fill="url(#gy)" stroke="#222" stroke-opacity="0.75" stroke-width="0.8"/>
<circle cx="1160.0" cy="342.3" r="5.9" fill="url(#gy)" stroke="#222" stroke-opacity="0.75" stroke-width="0.8"/>
<circle cx="1168.4" cy="321.4" r="5.9" fill="url(#gy)" stroke="#222" stroke-opacity="0.75" stroke-width="0.8"/>
<circle cx="1179.5" cy="323.5" r="5.9" fill="url(#gy)" stroke="#222" stroke-opacity="0.75" stroke-width="0.8"/>
<circle cx="1187.9" cy="327.0" r="5.9" fill="url(#gy)" stroke="#222" stroke-opacity="0.75" stroke-width="0.8"/>
<circle cx="1171.2" cy="335.3" r="5.9" fill="url(#gy)" stroke="#222" stroke-opacity="0.75" stroke-width="0.8"/>
<circle cx="1183.7" cy="332.6" r="5.9" fill="url(#gy)" stroke="#222" stroke-opacity="0.75" stroke-width="0.8"/>
<circle cx="1182.3" cy="342.3" r="5.9" fill="url(#gy)" stroke="#222" stroke-opacity="0.75" stroke-width="0.8"/>
<circle cx="1186.5" cy="346.5" r="5.9" fill="url(#gy)" stroke="#222" stroke-opacity="0.75" stroke-width="0.8"/>
<circle cx="1148.8" cy="349.3" r="5.9" fill="url(#gy)" stroke="#222" stroke-opacity="0.75" stroke-width="0.8"/>
<circle cx="1140.5" cy="354.9" r="5.9" fill="url(#gy)" stroke="#222" stroke-opacity="0.75" stroke-width="0.8"/>
<circle cx="1151.6" cy="343.7" r="5.9" fill="url(#gy)" stroke="#222" stroke-opacity="0.75" stroke-width="0.8"/>
<circle cx="1172.6" cy="365.3" r="5.9" fill="url(#gy)" stroke="#222" stroke-opacity="0.75" stroke-width="0.8"/>
<circle cx="1182.3" cy="382.8" r="5.9" fill="url(#gy)" stroke="#222" stroke-opacity="0.75" stroke-width="0.8"/>
<circle cx="1183.0" cy="301.9" r="5.9" fill="url(#gr)" stroke="#222" stroke-opacity="0.75" stroke-width="0.8"/>
<circle cx="1184.4" cy="312.3" r="5.9" fill="url(#gr)" stroke="#222" stroke-opacity="0.75" stroke-width="0.8"/>
<circle cx="1180.9" cy="313.0" r="5.9" fill="url(#gr)" stroke="#222" stroke-opacity="0.75" stroke-width="0.8"/>
<circle cx="1183.7" cy="363.3" r="4.4" fill="url(#gr)" stroke="#222" stroke-opacity="0.75" stroke-width="0.8"/>
<circle cx="1190.0" cy="375.8" r="4.4" fill="url(#gr)" stroke="#222" stroke-opacity="0.75" stroke-width="0.8"/>
<circle cx="1228.8" cy="266.3" r="5.9" fill="url(#gr)" stroke="#222" stroke-opacity="0.75" stroke-width="0.8"/>
<circle cx="1225.3" cy="299.1" r="5.9" fill="url(#gr)" stroke="#222" stroke-opacity="0.75" stroke-width="0.8"/>
<circle cx="1251.9" cy="298.4" r="5.9" fill="url(#gr)" stroke="#222" stroke-opacity="0.75" stroke-width="0.8"/>
<circle cx="1272.1" cy="301.2" r="5.9" fill="url(#gr)" stroke="#222" stroke-opacity="0.75" stroke-width="0.8"/>
<circle cx="1240.0" cy="306.0" r="5.9" fill="url(#gr)" stroke="#222" stroke-opacity="0.75" stroke-width="0.8"/>
<circle cx="1256.0" cy="308.1" r="5.9" fill="url(#gr)" stroke="#222" stroke-opacity="0.75" stroke-width="0.8"/>
<circle cx="1219.1" cy="311.6" r="5.9" fill="url(#gr)" stroke="#222" stroke-opacity="0.75" stroke-width="0.8"/>
<circle cx="1194.7" cy="315.8" r="5.9" fill="url(#gr)" stroke="#222" stroke-opacity="0.75" stroke-width="0.8"/>
<circle cx="1233.7" cy="315.1" r="5.9" fill="url(#gr)" stroke="#222" stroke-opacity="0.75" stroke-width="0.8"/>
<circle cx="1241.4" cy="317.9" r="5.9" fill="url(#gr)" stroke="#222" stroke-opacity="0.75" stroke-width="0.8"/>
<circle cx="1226.0" cy="317.2" r="5.9" fill="url(#gr)" stroke="#222" stroke-opacity="0.75" stroke-width="0.8"/>
<circle cx="1218.4" cy="321.4" r="5.9" fill="url(#gr)" stroke="#222" stroke-opacity="0.75" stroke-width="0.8"/>
<circle cx="1213.5" cy="322.1" r="5.9" fill="url(#gr)" stroke="#222" stroke-opacity="0.75" stroke-width="0.8"/>
<circle cx="1228.8" cy="321.4" r="5.9" fill="url(#gr)" stroke="#222" stroke-opacity="0.75" stroke-width="0.8"/>
<circle cx="1267.9" cy="321.4" r="5.9" fill="url(#gr)" stroke="#222" stroke-opacity="0.75" stroke-width="0.8"/>
<circle cx="1291.6" cy="317.9" r="5.9" fill="url(#gr)" stroke="#222" stroke-opacity="0.75" stroke-width="0.8"/>
<circle cx="1240.0" cy="327.7" r="5.9" fill="url(#gr)" stroke="#222" stroke-opacity="0.75" stroke-width="0.8"/>
<circle cx="1215.6" cy="329.8" r="5.9" fill="url(#gr)" stroke="#222" stroke-opacity="0.75" stroke-width="0.8"/>
<circle cx="1247.7" cy="333.3" r="5.9" fill="url(#gr)" stroke="#222" stroke-opacity="0.75" stroke-width="0.8"/>
<circle cx="1258.1" cy="334.0" r="5.9" fill="url(#gr)" stroke="#222" stroke-opacity="0.75" stroke-width="0.8"/>
<circle cx="1195.3" cy="334.0" r="5.9" fill="url(#gr)" stroke="#222" stroke-opacity="0.75" stroke-width="0.8"/>
<circle cx="1212.1" cy="338.1" r="5.9" fill="url(#gr)" stroke="#222" stroke-opacity="0.75" stroke-width="0.8"/>
<circle cx="1211.4" cy="345.8" r="5.9" fill="url(#gr)" stroke="#222" stroke-opacity="0.75" stroke-width="0.8"/>
<circle cx="1240.7" cy="343.0" r="5.9" fill="url(#gr)" stroke="#222" stroke-opacity="0.75" stroke-width="0.8"/>
<circle cx="1273.5" cy="355.6" r="5.9" fill="url(#gr)" stroke="#222" stroke-opacity="0.75" stroke-width="0.8"/>
<circle cx="1279.1" cy="355.6" r="5.9" fill="url(#gr)" stroke="#222" stroke-opacity="0.75" stroke-width="0.8"/>
<circle cx="1299.3" cy="366.0" r="5.9" fill="url(#gr)" stroke="#222" stroke-opacity="0.75" stroke-width="0.8"/>
<circle cx="1192.6" cy="375.8" r="4.4" fill="url(#gr)" stroke="#222" stroke-opacity="0.75" stroke-width="0.8"/>
<circle cx="1256.0" cy="373.7" r="5.9" fill="url(#gr)" stroke="#222" stroke-opacity="0.75" stroke-width="0.8"/>
<circle cx="1265.8" cy="370.9" r="5.9" fill="url(#gr)" stroke="#222" stroke-opacity="0.75" stroke-width="0.8"/>
<circle cx="1191.2" cy="327.0" r="5.9" fill="url(#gy)" stroke="#222" stroke-opacity="0.75" stroke-width="0.8"/>
<circle cx="1201.6" cy="330.5" r="5.9" fill="url(#gy)" stroke="#222" stroke-opacity="0.75" stroke-width="0.8"/>
<circle cx="1200.2" cy="334.6" r="5.9" fill="url(#gy)" stroke="#222" stroke-opacity="0.75" stroke-width="0.8"/>
<circle cx="1189.1" cy="338.1" r="5.9" fill="url(#gy)" stroke="#222" stroke-opacity="0.75" stroke-width="0.8"/>
<circle cx="1194.0" cy="355.6" r="5.9" fill="url(#gy)" stroke="#222" stroke-opacity="0.75" stroke-width="0.8"/>
<circle cx="1195.3" cy="365.3" r="5.9" fill="url(#gy)" stroke="#222" stroke-opacity="0.75" stroke-width="0.8"/>
<circle cx="1207.2" cy="367.4" r="5.9" fill="url(#gy)" stroke="#222" stroke-opacity="0.75" stroke-width="0.8"/>
<circle cx="1119.6" cy="335.9" r="5.9" fill="url(#gm)" stroke="#222" stroke-opacity="0.75" stroke-width="0.8"/>
<circle cx="1106.0" cy="345.8" r="5.9" fill="url(#gm)" stroke="#222" stroke-opacity="0.75" stroke-width="0.8"/>
<circle cx="1148.7" cy="317.1" r="5.9" fill="url(#gy)" stroke="#222" stroke-opacity="0.75" stroke-width="0.8"/>
<text transform="translate(420.0,379.5) rotate(40)" font-size="11.5" fill="#111" font-family="'DejaVu Sans', Verdana, sans-serif" letter-spacing="0">12</text>
<text transform="translate(423.0,384.0) rotate(40)" font-size="11.5" fill="#111" font-family="'DejaVu Sans', Verdana, sans-serif" letter-spacing="-2.2">10864</text>
<text transform="translate(437.0,396.0) rotate(40)" font-size="11.5" fill="#111" font-family="'DejaVu Sans', Verdana, sans-serif" letter-spacing="-0.2">20-2-4</text>
<text transform="translate(472.0,426.0) rotate(47)" font-size="11" fill="#111" font-family="'DejaVu Sans', Verdana, sans-serif" letter-spacing="-4.0">)%9.2(3tnenopmoC</text>
<text transform="translate(475.0,425.0) rotate(47)" font-size="11" fill="#111" font-family="'DejaVu Sans', Verdana, sans-serif" letter-spacing="-4.0">Component3 (2.9%)</text>
<text transform="translate(1362.5,361.0) rotate(41)" font-size="11.5" fill="#111" font-family="'DejaVu Sans', Verdana, sans-serif" letter-spacing="-3">140</text>
<text transform="translate(1366.0,366.0) rotate(41)" font-size="11.5" fill="#111" font-family="'DejaVu Sans', Verdana, sans-serif" letter-spacing="-3.0">120864</text>
<text transform="translate(1386.0,383.0) rotate(41)" font-size="11.5" fill="#111" font-family="'DejaVu Sans', Verdana, sans-serif" letter-spacing="-0.2">20-2-4</text>
<text transform="translate(1420.0,411.0) rotate(47)" font-size="11" fill="#111" font-family="'DejaVu Sans', Verdana, sans-serif" letter-spacing="-3.7">)%1.5(3tnenopmoC</text>
<text transform="translate(1423.0,410.0) rotate(47)" font-size="11" fill="#111" font-family="'DejaVu Sans', Verdana, sans-serif" letter-spacing="-3.7">Component3 (5.1%)</text>
<text x="908.2" y="22.4" font-size="29.8" text-anchor="middle" fill="#000" font-family="'Liberation Sans', Arial, sans-serif" >Subphenotype 1</text>
<text x="22.5" y="71.0" font-size="28.5" text-anchor="start" fill="#000" font-family="'Liberation Sans', Arial, sans-serif" >a)</text>
<text x="436.0" y="71.0" font-size="28.5" text-anchor="start" fill="#000" font-family="'Liberation Sans', Arial, sans-serif" >c)</text>
<text x="955.5" y="71.0" font-size="28.5" text-anchor="start" fill="#000" font-family="'Liberation Sans', Arial, sans-serif" >d)</text>
<text x="1412.0" y="71.5" font-size="29" text-anchor="start" fill="#000" font-family="'Liberation Sans', Arial, sans-serif" >f)</text>
<text x="251.8" y="68.4" font-size="27.45" text-anchor="middle" fill="#000" font-family="'Liberation Sans', Arial, sans-serif" >Severity in mBALF ARDS</text>
<text x="1220.0" y="68.6" font-size="27" text-anchor="middle" fill="#000" font-family="'Liberation Sans', Arial, sans-serif" >Severity in serum ARDS</text>
<rect x="417.70" y="65.40" width="18.20" height="273.30" fill="url(#hmcb)" />
<text x="444.0" y="89.2" font-size="14.5" text-anchor="start" fill="#111" font-family="'Liberation Sans', Arial, sans-serif" >1</text>
<text x="444.0" y="148.2" font-size="14.5" text-anchor="start" fill="#111" font-family="'Liberation Sans', Arial, sans-serif" >0.5</text>
<text x="444.0" y="207.2" font-size="14.5" text-anchor="start" fill="#111" font-family="'Liberation Sans', Arial, sans-serif" >0</text>
<text x="444.0" y="266.6" font-size="14.5" text-anchor="start" fill="#111" font-family="'Liberation Sans', Arial, sans-serif" >-0.5</text>
<text x="444.0" y="326.6" font-size="14.5" text-anchor="start" fill="#111" font-family="'Liberation Sans', Arial, sans-serif" >-1</text>
<rect x="1372.60" y="79.10" width="17.30" height="264.60" fill="url(#hmcb)" />
<text x="1397.9" y="101.2" font-size="14.5" text-anchor="start" fill="#111" font-family="'Liberation Sans', Arial, sans-serif" >1</text>
<text x="1397.9" y="159.2" font-size="14.5" text-anchor="start" fill="#111" font-family="'Liberation Sans', Arial, sans-serif" >0.5</text>
<text x="1397.9" y="217.1" font-size="14.5" text-anchor="start" fill="#111" font-family="'Liberation Sans', Arial, sans-serif" >0</text>
<text x="1397.9" y="274.6" font-size="14.5" text-anchor="start" fill="#111" font-family="'Liberation Sans', Arial, sans-serif" >-0.5</text>
<text x="1397.9" y="331.9" font-size="14.5" text-anchor="start" fill="#111" font-family="'Liberation Sans', Arial, sans-serif" >-1</text>
<text x="473.0" y="75.2" font-size="13.5" text-anchor="start" fill="#000" font-family="'Liberation Sans', Arial, sans-serif" font-weight="bold" >class</text>
<rect x="472.80" y="79.90" width="20.50" height="19.70" fill="#28ADCC" stroke="#9A9A9A" stroke-width="1.3" />
<text x="497.0" y="94.2" font-size="13.5" text-anchor="start" fill="#111" font-family="'Liberation Sans', Arial, sans-serif" >mild</text>
<rect x="472.80" y="99.60" width="20.50" height="19.70" fill="#2E9E32" stroke="#9A9A9A" stroke-width="1.3" />
<text x="497.0" y="113.9" font-size="13.5" text-anchor="start" fill="#111" font-family="'Liberation Sans', Arial, sans-serif" >mod</text>
<rect x="472.80" y="119.30" width="20.50" height="19.70" fill="#2E9E32" stroke="#9A9A9A" stroke-width="1.3" />
<text x="497.0" y="133.6" font-size="13.5" text-anchor="start" fill="#111" font-family="'Liberation Sans', Arial, sans-serif" >sev</text>
<text x="1426.2" y="88.3" font-size="14" text-anchor="start" fill="#000" font-family="'Liberation Sans', Arial, sans-serif" font-weight="bold" >class</text>
<rect x="1426.30" y="93.30" width="19.50" height="19.40" fill="#E5178C" stroke="#9A9A9A" stroke-width="1.3" />
<text x="1450.0" y="107.6" font-size="13.5" text-anchor="start" fill="#111" font-family="'Liberation Sans', Arial, sans-serif" >Mild</text>
<rect x="1426.30" y="112.50" width="19.50" height="19.40" fill="#EEF01E" stroke="#9A9A9A" stroke-width="1.3" />
<text x="1450.0" y="126.8" font-size="13.5" text-anchor="start" fill="#111" font-family="'Liberation Sans', Arial, sans-serif" >Mod</text>
<rect x="1426.30" y="132.20" width="19.50" height="19.40" fill="#F21212" stroke="#9A9A9A" stroke-width="1.3" />
<text x="1450.0" y="146.5" font-size="13.5" text-anchor="start" fill="#111" font-family="'Liberation Sans', Arial, sans-serif" >Sev</text>
</svg>
</body></html>
